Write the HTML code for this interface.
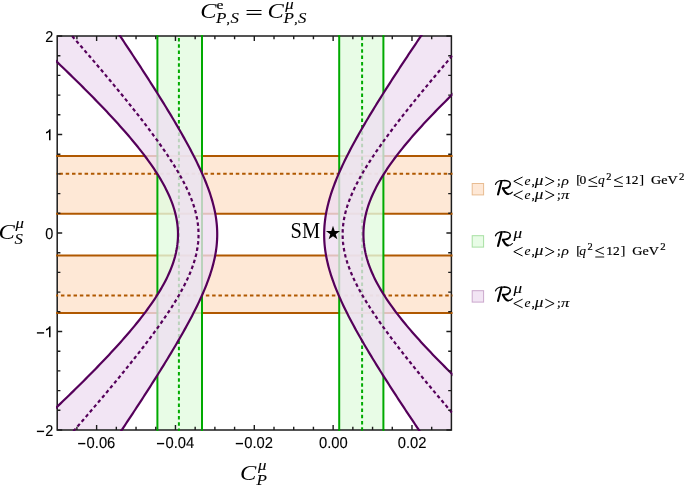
<!DOCTYPE html>
<html><head><meta charset="utf-8"><title>plot</title>
<style>html,body{margin:0;padding:0;background:#fff;}body{width:685px;height:485px;overflow:hidden;position:relative;font-family:"Liberation Sans",sans-serif;}</style></head>
<body>
<svg width="685" height="485" viewBox="0 0 685 485" style="position:absolute;left:0;top:0">
<defs><clipPath id="cp"><rect x="57.2" y="36.0" width="394.2" height="394.0"/></clipPath></defs>
<rect width="685" height="485" fill="#fff"/>
<g clip-path="url(#cp)">
<rect x="57.2" y="155.9" width="394.2" height="57.79999999999998" fill="#FEE8D6"/>
<rect x="57.2" y="255.55" width="394.2" height="57.44999999999999" fill="#FEE8D6"/>
<line x1="57.2" x2="451.4" y1="155.9" y2="155.9" stroke="#B05800" stroke-width="2.0"/>
<line x1="57.2" x2="451.4" y1="213.7" y2="213.7" stroke="#B05800" stroke-width="2.0"/>
<line x1="57.2" x2="451.4" y1="255.55" y2="255.55" stroke="#B05800" stroke-width="2.0"/>
<line x1="57.2" x2="451.4" y1="313.0" y2="313.0" stroke="#B05800" stroke-width="2.0"/>
<line x1="53.1" x2="451.4" y1="173.8" y2="173.8" stroke="#B05800" stroke-width="2.0" stroke-dasharray="3.5 2.8"/>
<line x1="54.64" x2="451.4" y1="295.4" y2="295.4" stroke="#B05800" stroke-width="2.0" stroke-dasharray="3.5 2.8"/>
<rect x="157.4" y="36.0" width="44.599999999999994" height="394.0" fill="rgba(226,251,224,0.8)"/>
<rect x="339.2" y="36.0" width="44.19999999999999" height="394.0" fill="rgba(226,251,224,0.8)"/>
<line y1="36.0" y2="430.0" x1="157.4" x2="157.4" stroke="#00AA00" stroke-width="2.0"/>
<line y1="36.0" y2="430.0" x1="202.0" x2="202.0" stroke="#00AA00" stroke-width="2.0"/>
<line y1="36.0" y2="430.0" x1="339.2" x2="339.2" stroke="#00AA00" stroke-width="2.0"/>
<line y1="36.0" y2="430.0" x1="383.4" x2="383.4" stroke="#00AA00" stroke-width="2.0"/>
<line y1="38.0" y2="430.0" x1="178.9" x2="178.9" stroke="#00AA00" stroke-width="2.0" stroke-dasharray="3.5 2.8"/>
<line y1="36.68" y2="430.0" x1="362.1" x2="362.1" stroke="#00AA00" stroke-width="2.0" stroke-dasharray="3.5 2.8"/>
<path d="M 22.83 30.00 L 25.05 32.04 L 27.26 34.08 L 29.47 36.12 L 31.68 38.16 L 33.88 40.20 L 36.07 42.24 L 38.26 44.28 L 40.45 46.32 L 42.63 48.36 L 44.80 50.40 L 46.97 52.44 L 49.13 54.48 L 51.29 56.52 L 53.44 58.56 L 55.59 60.60 L 57.73 62.64 L 59.87 64.68 L 61.99 66.72 L 64.12 68.76 L 66.23 70.80 L 68.34 72.84 L 70.44 74.88 L 72.53 76.92 L 74.62 78.96 L 76.69 81.01 L 78.76 83.05 L 80.83 85.09 L 82.88 87.13 L 84.92 89.17 L 86.96 91.21 L 88.98 93.25 L 91.00 95.29 L 93.01 97.33 L 95.00 99.37 L 96.99 101.41 L 98.96 103.45 L 100.93 105.49 L 102.88 107.53 L 104.82 109.57 L 106.75 111.61 L 108.67 113.65 L 110.57 115.69 L 112.46 117.73 L 114.34 119.77 L 116.20 121.81 L 118.05 123.85 L 119.89 125.89 L 121.70 127.93 L 123.51 129.97 L 125.29 132.01 L 127.06 134.05 L 128.81 136.09 L 130.54 138.13 L 132.26 140.17 L 133.95 142.21 L 135.63 144.25 L 137.29 146.29 L 138.92 148.33 L 140.53 150.37 L 142.12 152.41 L 143.69 154.45 L 145.23 156.49 L 146.75 158.53 L 148.24 160.57 L 149.71 162.61 L 151.15 164.65 L 152.56 166.69 L 153.94 168.73 L 155.30 170.77 L 156.62 172.81 L 157.92 174.85 L 159.18 176.89 L 160.40 178.93 L 161.60 180.97 L 162.76 183.02 L 163.88 185.06 L 164.97 187.10 L 166.02 189.14 L 167.03 191.18 L 168.00 193.22 L 168.94 195.26 L 169.83 197.30 L 170.68 199.34 L 171.48 201.38 L 172.25 203.42 L 172.97 205.46 L 173.64 207.50 L 174.27 209.54 L 174.85 211.58 L 175.38 213.62 L 175.87 215.66 L 176.31 217.70 L 176.70 219.74 L 177.03 221.78 L 177.32 223.82 L 177.56 225.86 L 177.75 227.90 L 177.89 229.94 L 177.97 231.98 L 178.01 234.02 L 177.99 236.06 L 177.93 238.10 L 177.81 240.14 L 177.64 242.18 L 177.42 244.22 L 177.15 246.26 L 176.83 248.30 L 176.46 250.34 L 176.04 252.38 L 175.57 254.42 L 175.06 256.46 L 174.49 258.50 L 173.88 260.54 L 173.23 262.58 L 172.53 264.62 L 171.78 266.66 L 170.99 268.70 L 170.15 270.74 L 169.28 272.78 L 168.36 274.82 L 167.40 276.86 L 166.41 278.90 L 165.37 280.94 L 164.30 282.98 L 163.19 285.03 L 162.04 287.07 L 160.86 289.11 L 159.64 291.15 L 158.40 293.19 L 157.12 295.23 L 155.80 297.27 L 154.46 299.31 L 153.09 301.35 L 151.69 303.39 L 150.26 305.43 L 148.80 307.47 L 147.32 309.51 L 145.81 311.55 L 144.27 313.59 L 142.72 315.63 L 141.14 317.67 L 139.53 319.71 L 137.91 321.75 L 136.26 323.79 L 134.59 325.83 L 132.90 327.87 L 131.20 329.91 L 129.47 331.95 L 127.73 333.99 L 125.96 336.03 L 124.18 338.07 L 122.39 340.11 L 120.58 342.15 L 118.75 344.19 L 116.91 346.23 L 115.05 348.27 L 113.18 350.31 L 111.29 352.35 L 109.39 354.39 L 107.48 356.43 L 105.55 358.47 L 103.62 360.51 L 101.67 362.55 L 99.71 364.59 L 97.74 366.63 L 95.76 368.67 L 93.76 370.71 L 91.76 372.75 L 89.75 374.79 L 87.73 376.83 L 85.69 378.87 L 83.65 380.91 L 81.60 382.95 L 79.54 384.99 L 77.48 387.04 L 75.40 389.08 L 73.32 391.12 L 71.23 393.16 L 69.13 395.20 L 67.03 397.24 L 64.92 399.28 L 62.80 401.32 L 60.67 403.36 L 58.54 405.40 L 56.40 407.44 L 54.26 409.48 L 52.11 411.52 L 49.95 413.56 L 47.79 415.60 L 45.62 417.64 L 43.45 419.68 L 41.27 421.72 L 39.09 423.76 L 36.90 425.80 L 34.71 427.84 L 32.51 429.88 L 30.31 431.92 L 28.10 433.96 L 25.89 436.00 L 117.76 436.00 L 119.12 433.96 L 120.49 431.92 L 121.85 429.88 L 123.21 427.84 L 124.56 425.80 L 125.92 423.76 L 127.27 421.72 L 128.62 419.68 L 129.97 417.64 L 131.31 415.60 L 132.66 413.56 L 134.00 411.52 L 135.34 409.48 L 136.67 407.44 L 138.01 405.40 L 139.34 403.36 L 140.67 401.32 L 141.99 399.28 L 143.31 397.24 L 144.63 395.20 L 145.95 393.16 L 147.26 391.12 L 148.57 389.08 L 149.88 387.04 L 151.18 384.99 L 152.48 382.95 L 153.78 380.91 L 155.07 378.87 L 156.35 376.83 L 157.64 374.79 L 158.92 372.75 L 160.19 370.71 L 161.46 368.67 L 162.73 366.63 L 163.99 364.59 L 165.24 362.55 L 166.49 360.51 L 167.74 358.47 L 168.97 356.43 L 170.21 354.39 L 171.43 352.35 L 172.65 350.31 L 173.87 348.27 L 175.08 346.23 L 176.27 344.19 L 177.47 342.15 L 178.65 340.11 L 179.83 338.07 L 181.00 336.03 L 182.16 333.99 L 183.31 331.95 L 184.45 329.91 L 185.59 327.87 L 186.71 325.83 L 187.82 323.79 L 188.92 321.75 L 190.01 319.71 L 191.09 317.67 L 192.16 315.63 L 193.21 313.59 L 194.25 311.55 L 195.28 309.51 L 196.30 307.47 L 197.29 305.43 L 198.28 303.39 L 199.25 301.35 L 200.20 299.31 L 201.13 297.27 L 202.04 295.23 L 202.94 293.19 L 203.82 291.15 L 204.68 289.11 L 205.51 287.07 L 206.33 285.03 L 207.12 282.98 L 207.89 280.94 L 208.63 278.90 L 209.35 276.86 L 210.05 274.82 L 210.71 272.78 L 211.35 270.74 L 211.96 268.70 L 212.54 266.66 L 213.09 264.62 L 213.61 262.58 L 214.10 260.54 L 214.56 258.50 L 214.98 256.46 L 215.37 254.42 L 215.72 252.38 L 216.03 250.34 L 216.31 248.30 L 216.56 246.26 L 216.76 244.22 L 216.93 242.18 L 217.06 240.14 L 217.15 238.10 L 217.21 236.06 L 217.22 234.02 L 217.20 231.98 L 217.14 229.94 L 217.03 227.90 L 216.90 225.86 L 216.72 223.82 L 216.50 221.78 L 216.25 219.74 L 215.96 217.70 L 215.64 215.66 L 215.28 213.62 L 214.88 211.58 L 214.45 209.54 L 213.99 207.50 L 213.49 205.46 L 212.97 203.42 L 212.41 201.38 L 211.82 199.34 L 211.20 197.30 L 210.56 195.26 L 209.89 193.22 L 209.19 191.18 L 208.46 189.14 L 207.71 187.10 L 206.94 185.06 L 206.14 183.02 L 205.32 180.97 L 204.48 178.93 L 203.61 176.89 L 202.73 174.85 L 201.83 172.81 L 200.91 170.77 L 199.97 168.73 L 199.02 166.69 L 198.05 164.65 L 197.06 162.61 L 196.06 160.57 L 195.04 158.53 L 194.01 156.49 L 192.97 154.45 L 191.91 152.41 L 190.84 150.37 L 189.76 148.33 L 188.66 146.29 L 187.56 144.25 L 186.45 142.21 L 185.32 140.17 L 184.19 138.13 L 183.04 136.09 L 181.89 134.05 L 180.72 132.01 L 179.55 129.97 L 178.37 127.93 L 177.19 125.89 L 175.99 123.85 L 174.79 121.81 L 173.58 119.77 L 172.37 117.73 L 171.15 115.69 L 169.92 113.65 L 168.68 111.61 L 167.44 109.57 L 166.20 107.53 L 164.95 105.49 L 163.69 103.45 L 162.43 101.41 L 161.16 99.37 L 159.89 97.33 L 158.62 95.29 L 157.34 93.25 L 156.05 91.21 L 154.76 89.17 L 153.47 87.13 L 152.18 85.09 L 150.88 83.05 L 149.57 81.01 L 148.26 78.96 L 146.95 76.92 L 145.64 74.88 L 144.32 72.84 L 143.00 70.80 L 141.68 68.76 L 140.35 66.72 L 139.03 64.68 L 137.69 62.64 L 136.36 60.60 L 135.02 58.56 L 133.68 56.52 L 132.34 54.48 L 131.00 52.44 L 129.65 50.40 L 128.30 48.36 L 126.95 46.32 L 125.60 44.28 L 124.24 42.24 L 122.89 40.20 L 121.53 38.16 L 120.17 36.12 L 118.80 34.08 L 117.44 32.04 L 116.07 30.00 Z" fill="rgba(238,222,241,0.78)"/>
<path d="M 425.05 30.00 L 423.66 32.04 L 422.28 34.08 L 420.90 36.12 L 419.52 38.16 L 418.15 40.20 L 416.78 42.24 L 415.40 44.28 L 414.04 46.32 L 412.67 48.36 L 411.30 50.40 L 409.94 52.44 L 408.58 54.48 L 407.23 56.52 L 405.87 58.56 L 404.52 60.60 L 403.18 62.64 L 401.83 64.68 L 400.49 66.72 L 399.15 68.76 L 397.82 70.80 L 396.49 72.84 L 395.16 74.88 L 393.83 76.92 L 392.51 78.96 L 391.20 81.01 L 389.88 83.05 L 388.57 85.09 L 387.27 87.13 L 385.97 89.17 L 384.67 91.21 L 383.38 93.25 L 382.10 95.29 L 380.81 97.33 L 379.54 99.37 L 378.27 101.41 L 377.00 103.45 L 375.74 105.49 L 374.49 107.53 L 373.24 109.57 L 372.00 111.61 L 370.76 113.65 L 369.53 115.69 L 368.31 117.73 L 367.10 119.77 L 365.89 121.81 L 364.69 123.85 L 363.50 125.89 L 362.32 127.93 L 361.14 129.97 L 359.97 132.01 L 358.82 134.05 L 357.67 136.09 L 356.53 138.13 L 355.40 140.17 L 354.29 142.21 L 353.18 144.25 L 352.09 146.29 L 351.01 148.33 L 349.93 150.37 L 348.88 152.41 L 347.83 154.45 L 346.80 156.49 L 345.79 158.53 L 344.78 160.57 L 343.80 162.61 L 342.83 164.65 L 341.87 166.69 L 340.94 168.73 L 340.02 170.77 L 339.12 172.81 L 338.23 174.85 L 337.37 176.89 L 336.53 178.93 L 335.71 180.97 L 334.91 183.02 L 334.13 185.06 L 333.38 187.10 L 332.65 189.14 L 331.95 191.18 L 331.27 193.22 L 330.61 195.26 L 329.99 197.30 L 329.39 199.34 L 328.82 201.38 L 328.28 203.42 L 327.77 205.46 L 327.30 207.50 L 326.85 209.54 L 326.43 211.58 L 326.05 213.62 L 325.70 215.66 L 325.39 217.70 L 325.11 219.74 L 324.87 221.78 L 324.66 223.82 L 324.48 225.86 L 324.35 227.90 L 324.25 229.94 L 324.18 231.98 L 324.15 234.02 L 324.16 236.06 L 324.21 238.10 L 324.29 240.14 L 324.41 242.18 L 324.56 244.22 L 324.75 246.26 L 324.98 248.30 L 325.24 250.34 L 325.54 252.38 L 325.87 254.42 L 326.24 256.46 L 326.63 258.50 L 327.06 260.54 L 327.53 262.58 L 328.02 264.62 L 328.54 266.66 L 329.10 268.70 L 329.68 270.74 L 330.29 272.78 L 330.93 274.82 L 331.60 276.86 L 332.29 278.90 L 333.00 280.94 L 333.75 282.98 L 334.51 285.03 L 335.30 287.07 L 336.11 289.11 L 336.94 291.15 L 337.79 293.19 L 338.66 295.23 L 339.55 297.27 L 340.46 299.31 L 341.39 301.35 L 342.34 303.39 L 343.30 305.43 L 344.28 307.47 L 345.27 309.51 L 346.28 311.55 L 347.30 313.59 L 348.34 315.63 L 349.39 317.67 L 350.46 319.71 L 351.53 321.75 L 352.62 323.79 L 353.72 325.83 L 354.83 327.87 L 355.96 329.91 L 357.09 331.95 L 358.23 333.99 L 359.38 336.03 L 360.54 338.07 L 361.71 340.11 L 362.89 342.15 L 364.08 344.19 L 365.28 346.23 L 366.48 348.27 L 367.69 350.31 L 368.91 352.35 L 370.13 354.39 L 371.37 356.43 L 372.60 358.47 L 373.85 360.51 L 375.10 362.55 L 376.36 364.59 L 377.62 366.63 L 378.89 368.67 L 380.16 370.71 L 381.44 372.75 L 382.73 374.79 L 384.01 376.83 L 385.31 378.87 L 386.61 380.91 L 387.91 382.95 L 389.21 384.99 L 390.53 387.04 L 391.84 389.08 L 393.16 391.12 L 394.48 393.16 L 395.81 395.20 L 397.14 397.24 L 398.47 399.28 L 399.81 401.32 L 401.15 403.36 L 402.49 405.40 L 403.84 407.44 L 405.18 409.48 L 406.54 411.52 L 407.89 413.56 L 409.25 415.60 L 410.61 417.64 L 411.97 419.68 L 413.34 421.72 L 414.70 423.76 L 416.07 425.80 L 417.45 427.84 L 418.82 429.88 L 420.20 431.92 L 421.58 433.96 L 422.96 436.00 L 519.42 436.00 L 517.10 433.96 L 514.79 431.92 L 512.49 429.88 L 510.19 427.84 L 507.90 425.80 L 505.61 423.76 L 503.33 421.72 L 501.05 419.68 L 498.78 417.64 L 496.52 415.60 L 494.26 413.56 L 492.02 411.52 L 489.77 409.48 L 487.54 407.44 L 485.31 405.40 L 483.09 403.36 L 480.88 401.32 L 478.67 399.28 L 476.47 397.24 L 474.29 395.20 L 472.10 393.16 L 469.93 391.12 L 467.77 389.08 L 465.62 387.04 L 463.47 384.99 L 461.34 382.95 L 459.21 380.91 L 457.10 378.87 L 455.00 376.83 L 452.90 374.79 L 450.82 372.75 L 448.75 370.71 L 446.69 368.67 L 444.65 366.63 L 442.61 364.59 L 440.59 362.55 L 438.59 360.51 L 436.59 358.47 L 434.61 356.43 L 432.64 354.39 L 430.69 352.35 L 428.76 350.31 L 426.84 348.27 L 424.93 346.23 L 423.04 344.19 L 421.17 342.15 L 419.32 340.11 L 417.48 338.07 L 415.67 336.03 L 413.87 333.99 L 412.09 331.95 L 410.33 329.91 L 408.59 327.87 L 406.88 325.83 L 405.18 323.79 L 403.51 321.75 L 401.86 319.71 L 400.24 317.67 L 398.64 315.63 L 397.06 313.59 L 395.51 311.55 L 393.99 309.51 L 392.50 307.47 L 391.03 305.43 L 389.59 303.39 L 388.19 301.35 L 386.81 299.31 L 385.46 297.27 L 384.15 295.23 L 382.87 293.19 L 381.62 291.15 L 380.41 289.11 L 379.23 287.07 L 378.09 285.03 L 376.98 282.98 L 375.92 280.94 L 374.89 278.90 L 373.90 276.86 L 372.95 274.82 L 372.04 272.78 L 371.18 270.74 L 370.35 268.70 L 369.57 266.66 L 368.83 264.62 L 368.14 262.58 L 367.50 260.54 L 366.89 258.50 L 366.34 256.46 L 365.83 254.42 L 365.37 252.38 L 364.96 250.34 L 364.60 248.30 L 364.28 246.26 L 364.02 244.22 L 363.80 242.18 L 363.64 240.14 L 363.52 238.10 L 363.45 236.06 L 363.44 234.02 L 363.47 231.98 L 363.55 229.94 L 363.69 227.90 L 363.87 225.86 L 364.10 223.82 L 364.38 221.78 L 364.72 219.74 L 365.10 217.70 L 365.52 215.66 L 366.00 213.62 L 366.52 211.58 L 367.09 209.54 L 367.71 207.50 L 368.37 205.46 L 369.08 203.42 L 369.83 201.38 L 370.63 199.34 L 371.46 197.30 L 372.35 195.26 L 373.27 193.22 L 374.23 191.18 L 375.23 189.14 L 376.27 187.10 L 377.35 185.06 L 378.47 183.02 L 379.63 180.97 L 380.82 178.93 L 382.04 176.89 L 383.30 174.85 L 384.59 172.81 L 385.92 170.77 L 387.27 168.73 L 388.66 166.69 L 390.08 164.65 L 391.53 162.61 L 393.00 160.57 L 394.51 158.53 L 396.04 156.49 L 397.60 154.45 L 399.18 152.41 L 400.79 150.37 L 402.42 148.33 L 404.08 146.29 L 405.76 144.25 L 407.46 142.21 L 409.18 140.17 L 410.93 138.13 L 412.69 136.09 L 414.48 134.05 L 416.28 132.01 L 418.11 129.97 L 419.95 127.93 L 421.81 125.89 L 423.68 123.85 L 425.58 121.81 L 427.49 119.77 L 429.41 117.73 L 431.35 115.69 L 433.31 113.65 L 435.28 111.61 L 437.27 109.57 L 439.27 107.53 L 441.28 105.49 L 443.30 103.45 L 445.34 101.41 L 447.39 99.37 L 449.46 97.33 L 451.53 95.29 L 453.61 93.25 L 455.71 91.21 L 457.82 89.17 L 459.94 87.13 L 462.06 85.09 L 464.20 83.05 L 466.35 81.01 L 468.51 78.96 L 470.67 76.92 L 472.85 74.88 L 475.03 72.84 L 477.22 70.80 L 479.42 68.76 L 481.63 66.72 L 483.84 64.68 L 486.07 62.64 L 488.30 60.60 L 490.53 58.56 L 492.78 56.52 L 495.03 54.48 L 497.29 52.44 L 499.55 50.40 L 501.83 48.36 L 504.10 46.32 L 506.39 44.28 L 508.68 42.24 L 510.97 40.20 L 513.27 38.16 L 515.58 36.12 L 517.89 34.08 L 520.21 32.04 L 522.53 30.00 Z" fill="rgba(238,222,241,0.78)"/>
<path d="M 116.07 30.00 L 117.44 32.04 L 118.80 34.08 L 120.17 36.12 L 121.53 38.16 L 122.89 40.20 L 124.24 42.24 L 125.60 44.28 L 126.95 46.32 L 128.30 48.36 L 129.65 50.40 L 131.00 52.44 L 132.34 54.48 L 133.68 56.52 L 135.02 58.56 L 136.36 60.60 L 137.69 62.64 L 139.03 64.68 L 140.35 66.72 L 141.68 68.76 L 143.00 70.80 L 144.32 72.84 L 145.64 74.88 L 146.95 76.92 L 148.26 78.96 L 149.57 81.01 L 150.88 83.05 L 152.18 85.09 L 153.47 87.13 L 154.76 89.17 L 156.05 91.21 L 157.34 93.25 L 158.62 95.29 L 159.89 97.33 L 161.16 99.37 L 162.43 101.41 L 163.69 103.45 L 164.95 105.49 L 166.20 107.53 L 167.44 109.57 L 168.68 111.61 L 169.92 113.65 L 171.15 115.69 L 172.37 117.73 L 173.58 119.77 L 174.79 121.81 L 175.99 123.85 L 177.19 125.89 L 178.37 127.93 L 179.55 129.97 L 180.72 132.01 L 181.89 134.05 L 183.04 136.09 L 184.19 138.13 L 185.32 140.17 L 186.45 142.21 L 187.56 144.25 L 188.66 146.29 L 189.76 148.33 L 190.84 150.37 L 191.91 152.41 L 192.97 154.45 L 194.01 156.49 L 195.04 158.53 L 196.06 160.57 L 197.06 162.61 L 198.05 164.65 L 199.02 166.69 L 199.97 168.73 L 200.91 170.77 L 201.83 172.81 L 202.73 174.85 L 203.61 176.89 L 204.48 178.93 L 205.32 180.97 L 206.14 183.02 L 206.94 185.06 L 207.71 187.10 L 208.46 189.14 L 209.19 191.18 L 209.89 193.22 L 210.56 195.26 L 211.20 197.30 L 211.82 199.34 L 212.41 201.38 L 212.97 203.42 L 213.49 205.46 L 213.99 207.50 L 214.45 209.54 L 214.88 211.58 L 215.28 213.62 L 215.64 215.66 L 215.96 217.70 L 216.25 219.74 L 216.50 221.78 L 216.72 223.82 L 216.90 225.86 L 217.03 227.90 L 217.14 229.94 L 217.20 231.98 L 217.22 234.02 L 217.21 236.06 L 217.15 238.10 L 217.06 240.14 L 216.93 242.18 L 216.76 244.22 L 216.56 246.26 L 216.31 248.30 L 216.03 250.34 L 215.72 252.38 L 215.37 254.42 L 214.98 256.46 L 214.56 258.50 L 214.10 260.54 L 213.61 262.58 L 213.09 264.62 L 212.54 266.66 L 211.96 268.70 L 211.35 270.74 L 210.71 272.78 L 210.05 274.82 L 209.35 276.86 L 208.63 278.90 L 207.89 280.94 L 207.12 282.98 L 206.33 285.03 L 205.51 287.07 L 204.68 289.11 L 203.82 291.15 L 202.94 293.19 L 202.04 295.23 L 201.13 297.27 L 200.20 299.31 L 199.25 301.35 L 198.28 303.39 L 197.29 305.43 L 196.30 307.47 L 195.28 309.51 L 194.25 311.55 L 193.21 313.59 L 192.16 315.63 L 191.09 317.67 L 190.01 319.71 L 188.92 321.75 L 187.82 323.79 L 186.71 325.83 L 185.59 327.87 L 184.45 329.91 L 183.31 331.95 L 182.16 333.99 L 181.00 336.03 L 179.83 338.07 L 178.65 340.11 L 177.47 342.15 L 176.27 344.19 L 175.08 346.23 L 173.87 348.27 L 172.65 350.31 L 171.43 352.35 L 170.21 354.39 L 168.97 356.43 L 167.74 358.47 L 166.49 360.51 L 165.24 362.55 L 163.99 364.59 L 162.73 366.63 L 161.46 368.67 L 160.19 370.71 L 158.92 372.75 L 157.64 374.79 L 156.35 376.83 L 155.07 378.87 L 153.78 380.91 L 152.48 382.95 L 151.18 384.99 L 149.88 387.04 L 148.57 389.08 L 147.26 391.12 L 145.95 393.16 L 144.63 395.20 L 143.31 397.24 L 141.99 399.28 L 140.67 401.32 L 139.34 403.36 L 138.01 405.40 L 136.67 407.44 L 135.34 409.48 L 134.00 411.52 L 132.66 413.56 L 131.31 415.60 L 129.97 417.64 L 128.62 419.68 L 127.27 421.72 L 125.92 423.76 L 124.56 425.80 L 123.21 427.84 L 121.85 429.88 L 120.49 431.92 L 119.12 433.96 L 117.76 436.00" fill="none" stroke="#55005A" stroke-width="2.2"/>
<path d="M 22.83 30.00 L 25.05 32.04 L 27.26 34.08 L 29.47 36.12 L 31.68 38.16 L 33.88 40.20 L 36.07 42.24 L 38.26 44.28 L 40.45 46.32 L 42.63 48.36 L 44.80 50.40 L 46.97 52.44 L 49.13 54.48 L 51.29 56.52 L 53.44 58.56 L 55.59 60.60 L 57.73 62.64 L 59.87 64.68 L 61.99 66.72 L 64.12 68.76 L 66.23 70.80 L 68.34 72.84 L 70.44 74.88 L 72.53 76.92 L 74.62 78.96 L 76.69 81.01 L 78.76 83.05 L 80.83 85.09 L 82.88 87.13 L 84.92 89.17 L 86.96 91.21 L 88.98 93.25 L 91.00 95.29 L 93.01 97.33 L 95.00 99.37 L 96.99 101.41 L 98.96 103.45 L 100.93 105.49 L 102.88 107.53 L 104.82 109.57 L 106.75 111.61 L 108.67 113.65 L 110.57 115.69 L 112.46 117.73 L 114.34 119.77 L 116.20 121.81 L 118.05 123.85 L 119.89 125.89 L 121.70 127.93 L 123.51 129.97 L 125.29 132.01 L 127.06 134.05 L 128.81 136.09 L 130.54 138.13 L 132.26 140.17 L 133.95 142.21 L 135.63 144.25 L 137.29 146.29 L 138.92 148.33 L 140.53 150.37 L 142.12 152.41 L 143.69 154.45 L 145.23 156.49 L 146.75 158.53 L 148.24 160.57 L 149.71 162.61 L 151.15 164.65 L 152.56 166.69 L 153.94 168.73 L 155.30 170.77 L 156.62 172.81 L 157.92 174.85 L 159.18 176.89 L 160.40 178.93 L 161.60 180.97 L 162.76 183.02 L 163.88 185.06 L 164.97 187.10 L 166.02 189.14 L 167.03 191.18 L 168.00 193.22 L 168.94 195.26 L 169.83 197.30 L 170.68 199.34 L 171.48 201.38 L 172.25 203.42 L 172.97 205.46 L 173.64 207.50 L 174.27 209.54 L 174.85 211.58 L 175.38 213.62 L 175.87 215.66 L 176.31 217.70 L 176.70 219.74 L 177.03 221.78 L 177.32 223.82 L 177.56 225.86 L 177.75 227.90 L 177.89 229.94 L 177.97 231.98 L 178.01 234.02 L 177.99 236.06 L 177.93 238.10 L 177.81 240.14 L 177.64 242.18 L 177.42 244.22 L 177.15 246.26 L 176.83 248.30 L 176.46 250.34 L 176.04 252.38 L 175.57 254.42 L 175.06 256.46 L 174.49 258.50 L 173.88 260.54 L 173.23 262.58 L 172.53 264.62 L 171.78 266.66 L 170.99 268.70 L 170.15 270.74 L 169.28 272.78 L 168.36 274.82 L 167.40 276.86 L 166.41 278.90 L 165.37 280.94 L 164.30 282.98 L 163.19 285.03 L 162.04 287.07 L 160.86 289.11 L 159.64 291.15 L 158.40 293.19 L 157.12 295.23 L 155.80 297.27 L 154.46 299.31 L 153.09 301.35 L 151.69 303.39 L 150.26 305.43 L 148.80 307.47 L 147.32 309.51 L 145.81 311.55 L 144.27 313.59 L 142.72 315.63 L 141.14 317.67 L 139.53 319.71 L 137.91 321.75 L 136.26 323.79 L 134.59 325.83 L 132.90 327.87 L 131.20 329.91 L 129.47 331.95 L 127.73 333.99 L 125.96 336.03 L 124.18 338.07 L 122.39 340.11 L 120.58 342.15 L 118.75 344.19 L 116.91 346.23 L 115.05 348.27 L 113.18 350.31 L 111.29 352.35 L 109.39 354.39 L 107.48 356.43 L 105.55 358.47 L 103.62 360.51 L 101.67 362.55 L 99.71 364.59 L 97.74 366.63 L 95.76 368.67 L 93.76 370.71 L 91.76 372.75 L 89.75 374.79 L 87.73 376.83 L 85.69 378.87 L 83.65 380.91 L 81.60 382.95 L 79.54 384.99 L 77.48 387.04 L 75.40 389.08 L 73.32 391.12 L 71.23 393.16 L 69.13 395.20 L 67.03 397.24 L 64.92 399.28 L 62.80 401.32 L 60.67 403.36 L 58.54 405.40 L 56.40 407.44 L 54.26 409.48 L 52.11 411.52 L 49.95 413.56 L 47.79 415.60 L 45.62 417.64 L 43.45 419.68 L 41.27 421.72 L 39.09 423.76 L 36.90 425.80 L 34.71 427.84 L 32.51 429.88 L 30.31 431.92 L 28.10 433.96 L 25.89 436.00" fill="none" stroke="#55005A" stroke-width="2.2"/>
<path d="M 425.05 30.00 L 423.66 32.04 L 422.28 34.08 L 420.90 36.12 L 419.52 38.16 L 418.15 40.20 L 416.78 42.24 L 415.40 44.28 L 414.04 46.32 L 412.67 48.36 L 411.30 50.40 L 409.94 52.44 L 408.58 54.48 L 407.23 56.52 L 405.87 58.56 L 404.52 60.60 L 403.18 62.64 L 401.83 64.68 L 400.49 66.72 L 399.15 68.76 L 397.82 70.80 L 396.49 72.84 L 395.16 74.88 L 393.83 76.92 L 392.51 78.96 L 391.20 81.01 L 389.88 83.05 L 388.57 85.09 L 387.27 87.13 L 385.97 89.17 L 384.67 91.21 L 383.38 93.25 L 382.10 95.29 L 380.81 97.33 L 379.54 99.37 L 378.27 101.41 L 377.00 103.45 L 375.74 105.49 L 374.49 107.53 L 373.24 109.57 L 372.00 111.61 L 370.76 113.65 L 369.53 115.69 L 368.31 117.73 L 367.10 119.77 L 365.89 121.81 L 364.69 123.85 L 363.50 125.89 L 362.32 127.93 L 361.14 129.97 L 359.97 132.01 L 358.82 134.05 L 357.67 136.09 L 356.53 138.13 L 355.40 140.17 L 354.29 142.21 L 353.18 144.25 L 352.09 146.29 L 351.01 148.33 L 349.93 150.37 L 348.88 152.41 L 347.83 154.45 L 346.80 156.49 L 345.79 158.53 L 344.78 160.57 L 343.80 162.61 L 342.83 164.65 L 341.87 166.69 L 340.94 168.73 L 340.02 170.77 L 339.12 172.81 L 338.23 174.85 L 337.37 176.89 L 336.53 178.93 L 335.71 180.97 L 334.91 183.02 L 334.13 185.06 L 333.38 187.10 L 332.65 189.14 L 331.95 191.18 L 331.27 193.22 L 330.61 195.26 L 329.99 197.30 L 329.39 199.34 L 328.82 201.38 L 328.28 203.42 L 327.77 205.46 L 327.30 207.50 L 326.85 209.54 L 326.43 211.58 L 326.05 213.62 L 325.70 215.66 L 325.39 217.70 L 325.11 219.74 L 324.87 221.78 L 324.66 223.82 L 324.48 225.86 L 324.35 227.90 L 324.25 229.94 L 324.18 231.98 L 324.15 234.02 L 324.16 236.06 L 324.21 238.10 L 324.29 240.14 L 324.41 242.18 L 324.56 244.22 L 324.75 246.26 L 324.98 248.30 L 325.24 250.34 L 325.54 252.38 L 325.87 254.42 L 326.24 256.46 L 326.63 258.50 L 327.06 260.54 L 327.53 262.58 L 328.02 264.62 L 328.54 266.66 L 329.10 268.70 L 329.68 270.74 L 330.29 272.78 L 330.93 274.82 L 331.60 276.86 L 332.29 278.90 L 333.00 280.94 L 333.75 282.98 L 334.51 285.03 L 335.30 287.07 L 336.11 289.11 L 336.94 291.15 L 337.79 293.19 L 338.66 295.23 L 339.55 297.27 L 340.46 299.31 L 341.39 301.35 L 342.34 303.39 L 343.30 305.43 L 344.28 307.47 L 345.27 309.51 L 346.28 311.55 L 347.30 313.59 L 348.34 315.63 L 349.39 317.67 L 350.46 319.71 L 351.53 321.75 L 352.62 323.79 L 353.72 325.83 L 354.83 327.87 L 355.96 329.91 L 357.09 331.95 L 358.23 333.99 L 359.38 336.03 L 360.54 338.07 L 361.71 340.11 L 362.89 342.15 L 364.08 344.19 L 365.28 346.23 L 366.48 348.27 L 367.69 350.31 L 368.91 352.35 L 370.13 354.39 L 371.37 356.43 L 372.60 358.47 L 373.85 360.51 L 375.10 362.55 L 376.36 364.59 L 377.62 366.63 L 378.89 368.67 L 380.16 370.71 L 381.44 372.75 L 382.73 374.79 L 384.01 376.83 L 385.31 378.87 L 386.61 380.91 L 387.91 382.95 L 389.21 384.99 L 390.53 387.04 L 391.84 389.08 L 393.16 391.12 L 394.48 393.16 L 395.81 395.20 L 397.14 397.24 L 398.47 399.28 L 399.81 401.32 L 401.15 403.36 L 402.49 405.40 L 403.84 407.44 L 405.18 409.48 L 406.54 411.52 L 407.89 413.56 L 409.25 415.60 L 410.61 417.64 L 411.97 419.68 L 413.34 421.72 L 414.70 423.76 L 416.07 425.80 L 417.45 427.84 L 418.82 429.88 L 420.20 431.92 L 421.58 433.96 L 422.96 436.00" fill="none" stroke="#55005A" stroke-width="2.2"/>
<path d="M 522.53 30.00 L 520.21 32.04 L 517.89 34.08 L 515.58 36.12 L 513.27 38.16 L 510.97 40.20 L 508.68 42.24 L 506.39 44.28 L 504.10 46.32 L 501.83 48.36 L 499.55 50.40 L 497.29 52.44 L 495.03 54.48 L 492.78 56.52 L 490.53 58.56 L 488.30 60.60 L 486.07 62.64 L 483.84 64.68 L 481.63 66.72 L 479.42 68.76 L 477.22 70.80 L 475.03 72.84 L 472.85 74.88 L 470.67 76.92 L 468.51 78.96 L 466.35 81.01 L 464.20 83.05 L 462.06 85.09 L 459.94 87.13 L 457.82 89.17 L 455.71 91.21 L 453.61 93.25 L 451.53 95.29 L 449.46 97.33 L 447.39 99.37 L 445.34 101.41 L 443.30 103.45 L 441.28 105.49 L 439.27 107.53 L 437.27 109.57 L 435.28 111.61 L 433.31 113.65 L 431.35 115.69 L 429.41 117.73 L 427.49 119.77 L 425.58 121.81 L 423.68 123.85 L 421.81 125.89 L 419.95 127.93 L 418.11 129.97 L 416.28 132.01 L 414.48 134.05 L 412.69 136.09 L 410.93 138.13 L 409.18 140.17 L 407.46 142.21 L 405.76 144.25 L 404.08 146.29 L 402.42 148.33 L 400.79 150.37 L 399.18 152.41 L 397.60 154.45 L 396.04 156.49 L 394.51 158.53 L 393.00 160.57 L 391.53 162.61 L 390.08 164.65 L 388.66 166.69 L 387.27 168.73 L 385.92 170.77 L 384.59 172.81 L 383.30 174.85 L 382.04 176.89 L 380.82 178.93 L 379.63 180.97 L 378.47 183.02 L 377.35 185.06 L 376.27 187.10 L 375.23 189.14 L 374.23 191.18 L 373.27 193.22 L 372.35 195.26 L 371.46 197.30 L 370.63 199.34 L 369.83 201.38 L 369.08 203.42 L 368.37 205.46 L 367.71 207.50 L 367.09 209.54 L 366.52 211.58 L 366.00 213.62 L 365.52 215.66 L 365.10 217.70 L 364.72 219.74 L 364.38 221.78 L 364.10 223.82 L 363.87 225.86 L 363.69 227.90 L 363.55 229.94 L 363.47 231.98 L 363.44 234.02 L 363.45 236.06 L 363.52 238.10 L 363.64 240.14 L 363.80 242.18 L 364.02 244.22 L 364.28 246.26 L 364.60 248.30 L 364.96 250.34 L 365.37 252.38 L 365.83 254.42 L 366.34 256.46 L 366.89 258.50 L 367.50 260.54 L 368.14 262.58 L 368.83 264.62 L 369.57 266.66 L 370.35 268.70 L 371.18 270.74 L 372.04 272.78 L 372.95 274.82 L 373.90 276.86 L 374.89 278.90 L 375.92 280.94 L 376.98 282.98 L 378.09 285.03 L 379.23 287.07 L 380.41 289.11 L 381.62 291.15 L 382.87 293.19 L 384.15 295.23 L 385.46 297.27 L 386.81 299.31 L 388.19 301.35 L 389.59 303.39 L 391.03 305.43 L 392.50 307.47 L 393.99 309.51 L 395.51 311.55 L 397.06 313.59 L 398.64 315.63 L 400.24 317.67 L 401.86 319.71 L 403.51 321.75 L 405.18 323.79 L 406.88 325.83 L 408.59 327.87 L 410.33 329.91 L 412.09 331.95 L 413.87 333.99 L 415.67 336.03 L 417.48 338.07 L 419.32 340.11 L 421.17 342.15 L 423.04 344.19 L 424.93 346.23 L 426.84 348.27 L 428.76 350.31 L 430.69 352.35 L 432.64 354.39 L 434.61 356.43 L 436.59 358.47 L 438.59 360.51 L 440.59 362.55 L 442.61 364.59 L 444.65 366.63 L 446.69 368.67 L 448.75 370.71 L 450.82 372.75 L 452.90 374.79 L 455.00 376.83 L 457.10 378.87 L 459.21 380.91 L 461.34 382.95 L 463.47 384.99 L 465.62 387.04 L 467.77 389.08 L 469.93 391.12 L 472.10 393.16 L 474.29 395.20 L 476.47 397.24 L 478.67 399.28 L 480.88 401.32 L 483.09 403.36 L 485.31 405.40 L 487.54 407.44 L 489.77 409.48 L 492.02 411.52 L 494.26 413.56 L 496.52 415.60 L 498.78 417.64 L 501.05 419.68 L 503.33 421.72 L 505.61 423.76 L 507.90 425.80 L 510.19 427.84 L 512.49 429.88 L 514.79 431.92 L 517.10 433.96 L 519.42 436.00" fill="none" stroke="#55005A" stroke-width="2.2"/>
<path d="M 66.85 30.00 L 68.63 32.04 L 70.41 34.08 L 72.19 36.12 L 73.96 38.16 L 75.73 40.20 L 77.50 42.24 L 79.26 44.28 L 81.03 46.32 L 82.79 48.36 L 84.54 50.40 L 86.30 52.44 L 88.05 54.48 L 89.80 56.52 L 91.54 58.56 L 93.29 60.60 L 95.02 62.64 L 96.76 64.68 L 98.49 66.72 L 100.22 68.76 L 101.94 70.80 L 103.66 72.84 L 105.38 74.88 L 107.09 76.92 L 108.80 78.96 L 110.50 81.01 L 112.20 83.05 L 113.89 85.09 L 115.58 87.13 L 117.26 89.17 L 118.94 91.21 L 120.61 93.25 L 122.28 95.29 L 123.94 97.33 L 125.59 99.37 L 127.24 101.41 L 128.88 103.45 L 130.52 105.49 L 132.15 107.53 L 133.77 109.57 L 135.39 111.61 L 136.99 113.65 L 138.59 115.69 L 140.18 117.73 L 141.76 119.77 L 143.34 121.81 L 144.90 123.85 L 146.45 125.89 L 148.00 127.93 L 149.53 129.97 L 151.06 132.01 L 152.57 134.05 L 154.07 136.09 L 155.56 138.13 L 157.04 140.17 L 158.50 142.21 L 159.95 144.25 L 161.39 146.29 L 162.81 148.33 L 164.22 150.37 L 165.61 152.41 L 166.98 154.45 L 168.34 156.49 L 169.68 158.53 L 171.00 160.57 L 172.30 162.61 L 173.59 164.65 L 174.85 166.69 L 176.09 168.73 L 177.31 170.77 L 178.51 172.81 L 179.68 174.85 L 180.82 176.89 L 181.94 178.93 L 183.04 180.97 L 184.10 183.02 L 185.14 185.06 L 186.14 187.10 L 187.12 189.14 L 188.06 191.18 L 188.97 193.22 L 189.85 195.26 L 190.68 197.30 L 191.49 199.34 L 192.25 201.38 L 192.98 203.42 L 193.66 205.46 L 194.31 207.50 L 194.91 209.54 L 195.47 211.58 L 195.98 213.62 L 196.45 215.66 L 196.87 217.70 L 197.25 219.74 L 197.58 221.78 L 197.86 223.82 L 198.09 225.86 L 198.28 227.90 L 198.41 229.94 L 198.50 231.98 L 198.53 234.02 L 198.51 236.06 L 198.45 238.10 L 198.33 240.14 L 198.17 242.18 L 197.95 244.22 L 197.69 246.26 L 197.38 248.30 L 197.02 250.34 L 196.61 252.38 L 196.16 254.42 L 195.66 256.46 L 195.12 258.50 L 194.53 260.54 L 193.90 262.58 L 193.23 264.62 L 192.52 266.66 L 191.77 268.70 L 190.98 270.74 L 190.16 272.78 L 189.29 274.82 L 188.40 276.86 L 187.47 278.90 L 186.50 280.94 L 185.51 282.98 L 184.48 285.03 L 183.43 287.07 L 182.35 289.11 L 181.23 291.15 L 180.10 293.19 L 178.94 295.23 L 177.75 297.27 L 176.54 299.31 L 175.31 301.35 L 174.05 303.39 L 172.78 305.43 L 171.48 307.47 L 170.16 309.51 L 168.83 311.55 L 167.48 313.59 L 166.11 315.63 L 164.72 317.67 L 163.32 319.71 L 161.91 321.75 L 160.48 323.79 L 159.03 325.83 L 157.57 327.87 L 156.10 329.91 L 154.61 331.95 L 153.12 333.99 L 151.61 336.03 L 150.09 338.07 L 148.56 340.11 L 147.02 342.15 L 145.47 344.19 L 143.91 346.23 L 142.34 348.27 L 140.76 350.31 L 139.17 352.35 L 137.58 354.39 L 135.97 356.43 L 134.36 358.47 L 132.74 360.51 L 131.12 362.55 L 129.48 364.59 L 127.84 366.63 L 126.20 368.67 L 124.54 370.71 L 122.88 372.75 L 121.22 374.79 L 119.55 376.83 L 117.87 378.87 L 116.19 380.91 L 114.50 382.95 L 112.81 384.99 L 111.12 387.04 L 109.42 389.08 L 107.71 391.12 L 106.00 393.16 L 104.29 395.20 L 102.57 397.24 L 100.85 399.28 L 99.12 401.32 L 97.39 403.36 L 95.66 405.40 L 93.92 407.44 L 92.18 409.48 L 90.44 411.52 L 88.69 413.56 L 86.94 415.60 L 85.18 417.64 L 83.43 419.68 L 81.67 421.72 L 79.91 423.76 L 78.14 425.80 L 76.38 427.84 L 74.60 429.88 L 72.83 431.92 L 71.06 433.96 L 69.28 436.00" fill="none" stroke="#55005A" stroke-width="2.2" stroke-dasharray="3.5 2.8" stroke-dashoffset="4.496"/>
<path d="M 474.55 30.00 L 472.77 32.04 L 470.99 34.08 L 469.21 36.12 L 467.44 38.16 L 465.67 40.20 L 463.90 42.24 L 462.13 44.28 L 460.37 46.32 L 458.61 48.36 L 456.85 50.40 L 455.10 52.44 L 453.35 54.48 L 451.60 56.52 L 449.85 58.56 L 448.11 60.60 L 446.37 62.64 L 444.63 64.68 L 442.90 66.72 L 441.17 68.76 L 439.45 70.80 L 437.73 72.84 L 436.01 74.88 L 434.30 76.92 L 432.59 78.96 L 430.89 81.01 L 429.19 83.05 L 427.49 85.09 L 425.80 87.13 L 424.12 89.17 L 422.44 91.21 L 420.77 93.25 L 419.10 95.29 L 417.43 97.33 L 415.78 99.37 L 414.13 101.41 L 412.48 103.45 L 410.84 105.49 L 409.21 107.53 L 407.59 109.57 L 405.97 111.61 L 404.36 113.65 L 402.76 115.69 L 401.17 117.73 L 399.59 119.77 L 398.01 121.81 L 396.44 123.85 L 394.89 125.89 L 393.34 127.93 L 391.80 129.97 L 390.27 132.01 L 388.76 134.05 L 387.25 136.09 L 385.76 138.13 L 384.28 140.17 L 382.81 142.21 L 381.36 144.25 L 379.92 146.29 L 378.49 148.33 L 377.08 150.37 L 375.69 152.41 L 374.31 154.45 L 372.95 156.49 L 371.60 158.53 L 370.27 160.57 L 368.97 162.61 L 367.68 164.65 L 366.41 166.69 L 365.17 168.73 L 363.94 170.77 L 362.74 172.81 L 361.57 174.85 L 360.41 176.89 L 359.29 178.93 L 358.19 180.97 L 357.12 183.02 L 356.08 185.06 L 355.07 187.10 L 354.09 189.14 L 353.14 191.18 L 352.23 193.22 L 351.35 195.26 L 350.50 197.30 L 349.70 199.34 L 348.93 201.38 L 348.20 203.42 L 347.51 205.46 L 346.86 207.50 L 346.26 209.54 L 345.70 211.58 L 345.18 213.62 L 344.71 215.66 L 344.28 217.70 L 343.90 219.74 L 343.57 221.78 L 343.29 223.82 L 343.06 225.86 L 342.87 227.90 L 342.74 229.94 L 342.66 231.98 L 342.62 234.02 L 342.64 236.06 L 342.71 238.10 L 342.83 240.14 L 342.99 242.18 L 343.21 244.22 L 343.48 246.26 L 343.79 248.30 L 344.16 250.34 L 344.57 252.38 L 345.03 254.42 L 345.53 256.46 L 346.08 258.50 L 346.67 260.54 L 347.30 262.58 L 347.98 264.62 L 348.70 266.66 L 349.45 268.70 L 350.25 270.74 L 351.08 272.78 L 351.95 274.82 L 352.85 276.86 L 353.79 278.90 L 354.76 280.94 L 355.76 282.98 L 356.79 285.03 L 357.85 287.07 L 358.94 289.11 L 360.06 291.15 L 361.20 293.19 L 362.37 295.23 L 363.56 297.27 L 364.78 299.31 L 366.02 301.35 L 367.28 303.39 L 368.56 305.43 L 369.86 307.47 L 371.18 309.51 L 372.52 311.55 L 373.88 313.59 L 375.25 315.63 L 376.64 317.67 L 378.05 319.71 L 379.47 321.75 L 380.91 323.79 L 382.36 325.83 L 383.82 327.87 L 385.30 329.91 L 386.79 331.95 L 388.29 333.99 L 389.80 336.03 L 391.32 338.07 L 392.86 340.11 L 394.40 342.15 L 395.96 344.19 L 397.52 346.23 L 399.09 348.27 L 400.67 350.31 L 402.26 352.35 L 403.86 354.39 L 405.47 356.43 L 407.08 358.47 L 408.71 360.51 L 410.33 362.55 L 411.97 364.59 L 413.61 366.63 L 415.26 368.67 L 416.92 370.71 L 418.58 372.75 L 420.24 374.79 L 421.92 376.83 L 423.59 378.87 L 425.28 380.91 L 426.96 382.95 L 428.66 384.99 L 430.36 387.04 L 432.06 389.08 L 433.76 391.12 L 435.48 393.16 L 437.19 395.20 L 438.91 397.24 L 440.63 399.28 L 442.36 401.32 L 444.09 403.36 L 445.83 405.40 L 447.56 407.44 L 449.31 409.48 L 451.05 411.52 L 452.80 413.56 L 454.55 415.60 L 456.30 417.64 L 458.06 419.68 L 459.82 421.72 L 461.58 423.76 L 463.35 425.80 L 465.12 427.84 L 466.89 429.88 L 468.66 431.92 L 470.43 433.96 L 472.21 436.00" fill="none" stroke="#55005A" stroke-width="2.2" stroke-dasharray="3.5 2.8" stroke-dashoffset="3.789"/>
</g>
<rect x="57.2" y="36.0" width="394.2" height="394.0" fill="none" stroke="#1c1c1c" stroke-width="1.5"/>
<path d="M76.91 430.0 v-3.2 M76.91 36.0 v3.2 M96.62 430.0 v-5.0 M96.62 36.0 v5.0 M116.33 430.0 v-3.2 M116.33 36.0 v3.2 M136.04 430.0 v-3.2 M136.04 36.0 v3.2 M155.75 430.0 v-3.2 M155.75 36.0 v3.2 M175.46 430.0 v-5.0 M175.46 36.0 v5.0 M195.17 430.0 v-3.2 M195.17 36.0 v3.2 M214.88 430.0 v-3.2 M214.88 36.0 v3.2 M234.59 430.0 v-3.2 M234.59 36.0 v3.2 M254.30 430.0 v-5.0 M254.30 36.0 v5.0 M274.01 430.0 v-3.2 M274.01 36.0 v3.2 M293.72 430.0 v-3.2 M293.72 36.0 v3.2 M313.43 430.0 v-3.2 M313.43 36.0 v3.2 M333.14 430.0 v-5.0 M333.14 36.0 v5.0 M352.85 430.0 v-3.2 M352.85 36.0 v3.2 M372.56 430.0 v-3.2 M372.56 36.0 v3.2 M392.27 430.0 v-3.2 M392.27 36.0 v3.2 M411.98 430.0 v-5.0 M411.98 36.0 v5.0 M431.69 430.0 v-3.2 M431.69 36.0 v3.2 M57.2 430.00 h5.0 M451.4 430.00 h-5.0 M57.2 410.30 h3.2 M451.4 410.30 h-3.2 M57.2 390.60 h3.2 M451.4 390.60 h-3.2 M57.2 370.90 h3.2 M451.4 370.90 h-3.2 M57.2 351.20 h3.2 M451.4 351.20 h-3.2 M57.2 331.50 h5.0 M451.4 331.50 h-5.0 M57.2 311.80 h3.2 M451.4 311.80 h-3.2 M57.2 292.10 h3.2 M451.4 292.10 h-3.2 M57.2 272.40 h3.2 M451.4 272.40 h-3.2 M57.2 252.70 h3.2 M451.4 252.70 h-3.2 M57.2 233.00 h5.0 M451.4 233.00 h-5.0 M57.2 213.30 h3.2 M451.4 213.30 h-3.2 M57.2 193.60 h3.2 M451.4 193.60 h-3.2 M57.2 173.90 h3.2 M451.4 173.90 h-3.2 M57.2 154.20 h3.2 M451.4 154.20 h-3.2 M57.2 134.50 h5.0 M451.4 134.50 h-5.0 M57.2 114.80 h3.2 M451.4 114.80 h-3.2 M57.2 95.10 h3.2 M451.4 95.10 h-3.2 M57.2 75.40 h3.2 M451.4 75.40 h-3.2 M57.2 55.70 h3.2 M451.4 55.70 h-3.2 M57.2 36.00 h5.0 M451.4 36.00 h-5.0" stroke="#1c1c1c" stroke-width="1.4" fill="none"/>
<clipPath id="ring"><path clip-rule="evenodd" d="M56.1 34.9 H452.5 V431.1 H56.1 Z M57.95 36.75 V429.25 H450.65 V36.75 Z"/></clipPath>
<g clip-path="url(#ring)">
<line x1="55.2" x2="453.4" y1="155.9" y2="155.9" stroke="#B05800" stroke-width="2.0"/>
<line x1="55.2" x2="453.4" y1="213.7" y2="213.7" stroke="#B05800" stroke-width="2.0"/>
<line x1="55.2" x2="453.4" y1="255.55" y2="255.55" stroke="#B05800" stroke-width="2.0"/>
<line x1="55.2" x2="453.4" y1="313.0" y2="313.0" stroke="#B05800" stroke-width="2.0"/>
<line y1="34.0" y2="432.0" x1="157.4" x2="157.4" stroke="#00AA00" stroke-width="2.0"/>
<line y1="34.0" y2="432.0" x1="202.0" x2="202.0" stroke="#00AA00" stroke-width="2.0"/>
<line y1="34.0" y2="432.0" x1="339.2" x2="339.2" stroke="#00AA00" stroke-width="2.0"/>
<line y1="34.0" y2="432.0" x1="383.4" x2="383.4" stroke="#00AA00" stroke-width="2.0"/>
<path d="M 116.07 30.00 L 117.44 32.04 L 118.80 34.08 L 120.17 36.12 L 121.53 38.16 L 122.89 40.20 L 124.24 42.24 L 125.60 44.28 L 126.95 46.32 L 128.30 48.36 L 129.65 50.40 L 131.00 52.44 L 132.34 54.48 L 133.68 56.52 L 135.02 58.56 L 136.36 60.60 L 137.69 62.64 L 139.03 64.68 L 140.35 66.72 L 141.68 68.76 L 143.00 70.80 L 144.32 72.84 L 145.64 74.88 L 146.95 76.92 L 148.26 78.96 L 149.57 81.01 L 150.88 83.05 L 152.18 85.09 L 153.47 87.13 L 154.76 89.17 L 156.05 91.21 L 157.34 93.25 L 158.62 95.29 L 159.89 97.33 L 161.16 99.37 L 162.43 101.41 L 163.69 103.45 L 164.95 105.49 L 166.20 107.53 L 167.44 109.57 L 168.68 111.61 L 169.92 113.65 L 171.15 115.69 L 172.37 117.73 L 173.58 119.77 L 174.79 121.81 L 175.99 123.85 L 177.19 125.89 L 178.37 127.93 L 179.55 129.97 L 180.72 132.01 L 181.89 134.05 L 183.04 136.09 L 184.19 138.13 L 185.32 140.17 L 186.45 142.21 L 187.56 144.25 L 188.66 146.29 L 189.76 148.33 L 190.84 150.37 L 191.91 152.41 L 192.97 154.45 L 194.01 156.49 L 195.04 158.53 L 196.06 160.57 L 197.06 162.61 L 198.05 164.65 L 199.02 166.69 L 199.97 168.73 L 200.91 170.77 L 201.83 172.81 L 202.73 174.85 L 203.61 176.89 L 204.48 178.93 L 205.32 180.97 L 206.14 183.02 L 206.94 185.06 L 207.71 187.10 L 208.46 189.14 L 209.19 191.18 L 209.89 193.22 L 210.56 195.26 L 211.20 197.30 L 211.82 199.34 L 212.41 201.38 L 212.97 203.42 L 213.49 205.46 L 213.99 207.50 L 214.45 209.54 L 214.88 211.58 L 215.28 213.62 L 215.64 215.66 L 215.96 217.70 L 216.25 219.74 L 216.50 221.78 L 216.72 223.82 L 216.90 225.86 L 217.03 227.90 L 217.14 229.94 L 217.20 231.98 L 217.22 234.02 L 217.21 236.06 L 217.15 238.10 L 217.06 240.14 L 216.93 242.18 L 216.76 244.22 L 216.56 246.26 L 216.31 248.30 L 216.03 250.34 L 215.72 252.38 L 215.37 254.42 L 214.98 256.46 L 214.56 258.50 L 214.10 260.54 L 213.61 262.58 L 213.09 264.62 L 212.54 266.66 L 211.96 268.70 L 211.35 270.74 L 210.71 272.78 L 210.05 274.82 L 209.35 276.86 L 208.63 278.90 L 207.89 280.94 L 207.12 282.98 L 206.33 285.03 L 205.51 287.07 L 204.68 289.11 L 203.82 291.15 L 202.94 293.19 L 202.04 295.23 L 201.13 297.27 L 200.20 299.31 L 199.25 301.35 L 198.28 303.39 L 197.29 305.43 L 196.30 307.47 L 195.28 309.51 L 194.25 311.55 L 193.21 313.59 L 192.16 315.63 L 191.09 317.67 L 190.01 319.71 L 188.92 321.75 L 187.82 323.79 L 186.71 325.83 L 185.59 327.87 L 184.45 329.91 L 183.31 331.95 L 182.16 333.99 L 181.00 336.03 L 179.83 338.07 L 178.65 340.11 L 177.47 342.15 L 176.27 344.19 L 175.08 346.23 L 173.87 348.27 L 172.65 350.31 L 171.43 352.35 L 170.21 354.39 L 168.97 356.43 L 167.74 358.47 L 166.49 360.51 L 165.24 362.55 L 163.99 364.59 L 162.73 366.63 L 161.46 368.67 L 160.19 370.71 L 158.92 372.75 L 157.64 374.79 L 156.35 376.83 L 155.07 378.87 L 153.78 380.91 L 152.48 382.95 L 151.18 384.99 L 149.88 387.04 L 148.57 389.08 L 147.26 391.12 L 145.95 393.16 L 144.63 395.20 L 143.31 397.24 L 141.99 399.28 L 140.67 401.32 L 139.34 403.36 L 138.01 405.40 L 136.67 407.44 L 135.34 409.48 L 134.00 411.52 L 132.66 413.56 L 131.31 415.60 L 129.97 417.64 L 128.62 419.68 L 127.27 421.72 L 125.92 423.76 L 124.56 425.80 L 123.21 427.84 L 121.85 429.88 L 120.49 431.92 L 119.12 433.96 L 117.76 436.00" fill="none" stroke="#55005A" stroke-width="2.2"/>
<path d="M 22.83 30.00 L 25.05 32.04 L 27.26 34.08 L 29.47 36.12 L 31.68 38.16 L 33.88 40.20 L 36.07 42.24 L 38.26 44.28 L 40.45 46.32 L 42.63 48.36 L 44.80 50.40 L 46.97 52.44 L 49.13 54.48 L 51.29 56.52 L 53.44 58.56 L 55.59 60.60 L 57.73 62.64 L 59.87 64.68 L 61.99 66.72 L 64.12 68.76 L 66.23 70.80 L 68.34 72.84 L 70.44 74.88 L 72.53 76.92 L 74.62 78.96 L 76.69 81.01 L 78.76 83.05 L 80.83 85.09 L 82.88 87.13 L 84.92 89.17 L 86.96 91.21 L 88.98 93.25 L 91.00 95.29 L 93.01 97.33 L 95.00 99.37 L 96.99 101.41 L 98.96 103.45 L 100.93 105.49 L 102.88 107.53 L 104.82 109.57 L 106.75 111.61 L 108.67 113.65 L 110.57 115.69 L 112.46 117.73 L 114.34 119.77 L 116.20 121.81 L 118.05 123.85 L 119.89 125.89 L 121.70 127.93 L 123.51 129.97 L 125.29 132.01 L 127.06 134.05 L 128.81 136.09 L 130.54 138.13 L 132.26 140.17 L 133.95 142.21 L 135.63 144.25 L 137.29 146.29 L 138.92 148.33 L 140.53 150.37 L 142.12 152.41 L 143.69 154.45 L 145.23 156.49 L 146.75 158.53 L 148.24 160.57 L 149.71 162.61 L 151.15 164.65 L 152.56 166.69 L 153.94 168.73 L 155.30 170.77 L 156.62 172.81 L 157.92 174.85 L 159.18 176.89 L 160.40 178.93 L 161.60 180.97 L 162.76 183.02 L 163.88 185.06 L 164.97 187.10 L 166.02 189.14 L 167.03 191.18 L 168.00 193.22 L 168.94 195.26 L 169.83 197.30 L 170.68 199.34 L 171.48 201.38 L 172.25 203.42 L 172.97 205.46 L 173.64 207.50 L 174.27 209.54 L 174.85 211.58 L 175.38 213.62 L 175.87 215.66 L 176.31 217.70 L 176.70 219.74 L 177.03 221.78 L 177.32 223.82 L 177.56 225.86 L 177.75 227.90 L 177.89 229.94 L 177.97 231.98 L 178.01 234.02 L 177.99 236.06 L 177.93 238.10 L 177.81 240.14 L 177.64 242.18 L 177.42 244.22 L 177.15 246.26 L 176.83 248.30 L 176.46 250.34 L 176.04 252.38 L 175.57 254.42 L 175.06 256.46 L 174.49 258.50 L 173.88 260.54 L 173.23 262.58 L 172.53 264.62 L 171.78 266.66 L 170.99 268.70 L 170.15 270.74 L 169.28 272.78 L 168.36 274.82 L 167.40 276.86 L 166.41 278.90 L 165.37 280.94 L 164.30 282.98 L 163.19 285.03 L 162.04 287.07 L 160.86 289.11 L 159.64 291.15 L 158.40 293.19 L 157.12 295.23 L 155.80 297.27 L 154.46 299.31 L 153.09 301.35 L 151.69 303.39 L 150.26 305.43 L 148.80 307.47 L 147.32 309.51 L 145.81 311.55 L 144.27 313.59 L 142.72 315.63 L 141.14 317.67 L 139.53 319.71 L 137.91 321.75 L 136.26 323.79 L 134.59 325.83 L 132.90 327.87 L 131.20 329.91 L 129.47 331.95 L 127.73 333.99 L 125.96 336.03 L 124.18 338.07 L 122.39 340.11 L 120.58 342.15 L 118.75 344.19 L 116.91 346.23 L 115.05 348.27 L 113.18 350.31 L 111.29 352.35 L 109.39 354.39 L 107.48 356.43 L 105.55 358.47 L 103.62 360.51 L 101.67 362.55 L 99.71 364.59 L 97.74 366.63 L 95.76 368.67 L 93.76 370.71 L 91.76 372.75 L 89.75 374.79 L 87.73 376.83 L 85.69 378.87 L 83.65 380.91 L 81.60 382.95 L 79.54 384.99 L 77.48 387.04 L 75.40 389.08 L 73.32 391.12 L 71.23 393.16 L 69.13 395.20 L 67.03 397.24 L 64.92 399.28 L 62.80 401.32 L 60.67 403.36 L 58.54 405.40 L 56.40 407.44 L 54.26 409.48 L 52.11 411.52 L 49.95 413.56 L 47.79 415.60 L 45.62 417.64 L 43.45 419.68 L 41.27 421.72 L 39.09 423.76 L 36.90 425.80 L 34.71 427.84 L 32.51 429.88 L 30.31 431.92 L 28.10 433.96 L 25.89 436.00" fill="none" stroke="#55005A" stroke-width="2.2"/>
<path d="M 425.05 30.00 L 423.66 32.04 L 422.28 34.08 L 420.90 36.12 L 419.52 38.16 L 418.15 40.20 L 416.78 42.24 L 415.40 44.28 L 414.04 46.32 L 412.67 48.36 L 411.30 50.40 L 409.94 52.44 L 408.58 54.48 L 407.23 56.52 L 405.87 58.56 L 404.52 60.60 L 403.18 62.64 L 401.83 64.68 L 400.49 66.72 L 399.15 68.76 L 397.82 70.80 L 396.49 72.84 L 395.16 74.88 L 393.83 76.92 L 392.51 78.96 L 391.20 81.01 L 389.88 83.05 L 388.57 85.09 L 387.27 87.13 L 385.97 89.17 L 384.67 91.21 L 383.38 93.25 L 382.10 95.29 L 380.81 97.33 L 379.54 99.37 L 378.27 101.41 L 377.00 103.45 L 375.74 105.49 L 374.49 107.53 L 373.24 109.57 L 372.00 111.61 L 370.76 113.65 L 369.53 115.69 L 368.31 117.73 L 367.10 119.77 L 365.89 121.81 L 364.69 123.85 L 363.50 125.89 L 362.32 127.93 L 361.14 129.97 L 359.97 132.01 L 358.82 134.05 L 357.67 136.09 L 356.53 138.13 L 355.40 140.17 L 354.29 142.21 L 353.18 144.25 L 352.09 146.29 L 351.01 148.33 L 349.93 150.37 L 348.88 152.41 L 347.83 154.45 L 346.80 156.49 L 345.79 158.53 L 344.78 160.57 L 343.80 162.61 L 342.83 164.65 L 341.87 166.69 L 340.94 168.73 L 340.02 170.77 L 339.12 172.81 L 338.23 174.85 L 337.37 176.89 L 336.53 178.93 L 335.71 180.97 L 334.91 183.02 L 334.13 185.06 L 333.38 187.10 L 332.65 189.14 L 331.95 191.18 L 331.27 193.22 L 330.61 195.26 L 329.99 197.30 L 329.39 199.34 L 328.82 201.38 L 328.28 203.42 L 327.77 205.46 L 327.30 207.50 L 326.85 209.54 L 326.43 211.58 L 326.05 213.62 L 325.70 215.66 L 325.39 217.70 L 325.11 219.74 L 324.87 221.78 L 324.66 223.82 L 324.48 225.86 L 324.35 227.90 L 324.25 229.94 L 324.18 231.98 L 324.15 234.02 L 324.16 236.06 L 324.21 238.10 L 324.29 240.14 L 324.41 242.18 L 324.56 244.22 L 324.75 246.26 L 324.98 248.30 L 325.24 250.34 L 325.54 252.38 L 325.87 254.42 L 326.24 256.46 L 326.63 258.50 L 327.06 260.54 L 327.53 262.58 L 328.02 264.62 L 328.54 266.66 L 329.10 268.70 L 329.68 270.74 L 330.29 272.78 L 330.93 274.82 L 331.60 276.86 L 332.29 278.90 L 333.00 280.94 L 333.75 282.98 L 334.51 285.03 L 335.30 287.07 L 336.11 289.11 L 336.94 291.15 L 337.79 293.19 L 338.66 295.23 L 339.55 297.27 L 340.46 299.31 L 341.39 301.35 L 342.34 303.39 L 343.30 305.43 L 344.28 307.47 L 345.27 309.51 L 346.28 311.55 L 347.30 313.59 L 348.34 315.63 L 349.39 317.67 L 350.46 319.71 L 351.53 321.75 L 352.62 323.79 L 353.72 325.83 L 354.83 327.87 L 355.96 329.91 L 357.09 331.95 L 358.23 333.99 L 359.38 336.03 L 360.54 338.07 L 361.71 340.11 L 362.89 342.15 L 364.08 344.19 L 365.28 346.23 L 366.48 348.27 L 367.69 350.31 L 368.91 352.35 L 370.13 354.39 L 371.37 356.43 L 372.60 358.47 L 373.85 360.51 L 375.10 362.55 L 376.36 364.59 L 377.62 366.63 L 378.89 368.67 L 380.16 370.71 L 381.44 372.75 L 382.73 374.79 L 384.01 376.83 L 385.31 378.87 L 386.61 380.91 L 387.91 382.95 L 389.21 384.99 L 390.53 387.04 L 391.84 389.08 L 393.16 391.12 L 394.48 393.16 L 395.81 395.20 L 397.14 397.24 L 398.47 399.28 L 399.81 401.32 L 401.15 403.36 L 402.49 405.40 L 403.84 407.44 L 405.18 409.48 L 406.54 411.52 L 407.89 413.56 L 409.25 415.60 L 410.61 417.64 L 411.97 419.68 L 413.34 421.72 L 414.70 423.76 L 416.07 425.80 L 417.45 427.84 L 418.82 429.88 L 420.20 431.92 L 421.58 433.96 L 422.96 436.00" fill="none" stroke="#55005A" stroke-width="2.2"/>
<path d="M 522.53 30.00 L 520.21 32.04 L 517.89 34.08 L 515.58 36.12 L 513.27 38.16 L 510.97 40.20 L 508.68 42.24 L 506.39 44.28 L 504.10 46.32 L 501.83 48.36 L 499.55 50.40 L 497.29 52.44 L 495.03 54.48 L 492.78 56.52 L 490.53 58.56 L 488.30 60.60 L 486.07 62.64 L 483.84 64.68 L 481.63 66.72 L 479.42 68.76 L 477.22 70.80 L 475.03 72.84 L 472.85 74.88 L 470.67 76.92 L 468.51 78.96 L 466.35 81.01 L 464.20 83.05 L 462.06 85.09 L 459.94 87.13 L 457.82 89.17 L 455.71 91.21 L 453.61 93.25 L 451.53 95.29 L 449.46 97.33 L 447.39 99.37 L 445.34 101.41 L 443.30 103.45 L 441.28 105.49 L 439.27 107.53 L 437.27 109.57 L 435.28 111.61 L 433.31 113.65 L 431.35 115.69 L 429.41 117.73 L 427.49 119.77 L 425.58 121.81 L 423.68 123.85 L 421.81 125.89 L 419.95 127.93 L 418.11 129.97 L 416.28 132.01 L 414.48 134.05 L 412.69 136.09 L 410.93 138.13 L 409.18 140.17 L 407.46 142.21 L 405.76 144.25 L 404.08 146.29 L 402.42 148.33 L 400.79 150.37 L 399.18 152.41 L 397.60 154.45 L 396.04 156.49 L 394.51 158.53 L 393.00 160.57 L 391.53 162.61 L 390.08 164.65 L 388.66 166.69 L 387.27 168.73 L 385.92 170.77 L 384.59 172.81 L 383.30 174.85 L 382.04 176.89 L 380.82 178.93 L 379.63 180.97 L 378.47 183.02 L 377.35 185.06 L 376.27 187.10 L 375.23 189.14 L 374.23 191.18 L 373.27 193.22 L 372.35 195.26 L 371.46 197.30 L 370.63 199.34 L 369.83 201.38 L 369.08 203.42 L 368.37 205.46 L 367.71 207.50 L 367.09 209.54 L 366.52 211.58 L 366.00 213.62 L 365.52 215.66 L 365.10 217.70 L 364.72 219.74 L 364.38 221.78 L 364.10 223.82 L 363.87 225.86 L 363.69 227.90 L 363.55 229.94 L 363.47 231.98 L 363.44 234.02 L 363.45 236.06 L 363.52 238.10 L 363.64 240.14 L 363.80 242.18 L 364.02 244.22 L 364.28 246.26 L 364.60 248.30 L 364.96 250.34 L 365.37 252.38 L 365.83 254.42 L 366.34 256.46 L 366.89 258.50 L 367.50 260.54 L 368.14 262.58 L 368.83 264.62 L 369.57 266.66 L 370.35 268.70 L 371.18 270.74 L 372.04 272.78 L 372.95 274.82 L 373.90 276.86 L 374.89 278.90 L 375.92 280.94 L 376.98 282.98 L 378.09 285.03 L 379.23 287.07 L 380.41 289.11 L 381.62 291.15 L 382.87 293.19 L 384.15 295.23 L 385.46 297.27 L 386.81 299.31 L 388.19 301.35 L 389.59 303.39 L 391.03 305.43 L 392.50 307.47 L 393.99 309.51 L 395.51 311.55 L 397.06 313.59 L 398.64 315.63 L 400.24 317.67 L 401.86 319.71 L 403.51 321.75 L 405.18 323.79 L 406.88 325.83 L 408.59 327.87 L 410.33 329.91 L 412.09 331.95 L 413.87 333.99 L 415.67 336.03 L 417.48 338.07 L 419.32 340.11 L 421.17 342.15 L 423.04 344.19 L 424.93 346.23 L 426.84 348.27 L 428.76 350.31 L 430.69 352.35 L 432.64 354.39 L 434.61 356.43 L 436.59 358.47 L 438.59 360.51 L 440.59 362.55 L 442.61 364.59 L 444.65 366.63 L 446.69 368.67 L 448.75 370.71 L 450.82 372.75 L 452.90 374.79 L 455.00 376.83 L 457.10 378.87 L 459.21 380.91 L 461.34 382.95 L 463.47 384.99 L 465.62 387.04 L 467.77 389.08 L 469.93 391.12 L 472.10 393.16 L 474.29 395.20 L 476.47 397.24 L 478.67 399.28 L 480.88 401.32 L 483.09 403.36 L 485.31 405.40 L 487.54 407.44 L 489.77 409.48 L 492.02 411.52 L 494.26 413.56 L 496.52 415.60 L 498.78 417.64 L 501.05 419.68 L 503.33 421.72 L 505.61 423.76 L 507.90 425.80 L 510.19 427.84 L 512.49 429.88 L 514.79 431.92 L 517.10 433.96 L 519.42 436.00" fill="none" stroke="#55005A" stroke-width="2.2"/>
<path d="M 66.85 30.00 L 68.63 32.04 L 70.41 34.08 L 72.19 36.12 L 73.96 38.16 L 75.73 40.20 L 77.50 42.24 L 79.26 44.28 L 81.03 46.32 L 82.79 48.36 L 84.54 50.40 L 86.30 52.44 L 88.05 54.48 L 89.80 56.52 L 91.54 58.56 L 93.29 60.60 L 95.02 62.64 L 96.76 64.68 L 98.49 66.72 L 100.22 68.76 L 101.94 70.80 L 103.66 72.84 L 105.38 74.88 L 107.09 76.92 L 108.80 78.96 L 110.50 81.01 L 112.20 83.05 L 113.89 85.09 L 115.58 87.13 L 117.26 89.17 L 118.94 91.21 L 120.61 93.25 L 122.28 95.29 L 123.94 97.33 L 125.59 99.37 L 127.24 101.41 L 128.88 103.45 L 130.52 105.49 L 132.15 107.53 L 133.77 109.57 L 135.39 111.61 L 136.99 113.65 L 138.59 115.69 L 140.18 117.73 L 141.76 119.77 L 143.34 121.81 L 144.90 123.85 L 146.45 125.89 L 148.00 127.93 L 149.53 129.97 L 151.06 132.01 L 152.57 134.05 L 154.07 136.09 L 155.56 138.13 L 157.04 140.17 L 158.50 142.21 L 159.95 144.25 L 161.39 146.29 L 162.81 148.33 L 164.22 150.37 L 165.61 152.41 L 166.98 154.45 L 168.34 156.49 L 169.68 158.53 L 171.00 160.57 L 172.30 162.61 L 173.59 164.65 L 174.85 166.69 L 176.09 168.73 L 177.31 170.77 L 178.51 172.81 L 179.68 174.85 L 180.82 176.89 L 181.94 178.93 L 183.04 180.97 L 184.10 183.02 L 185.14 185.06 L 186.14 187.10 L 187.12 189.14 L 188.06 191.18 L 188.97 193.22 L 189.85 195.26 L 190.68 197.30 L 191.49 199.34 L 192.25 201.38 L 192.98 203.42 L 193.66 205.46 L 194.31 207.50 L 194.91 209.54 L 195.47 211.58 L 195.98 213.62 L 196.45 215.66 L 196.87 217.70 L 197.25 219.74 L 197.58 221.78 L 197.86 223.82 L 198.09 225.86 L 198.28 227.90 L 198.41 229.94 L 198.50 231.98 L 198.53 234.02 L 198.51 236.06 L 198.45 238.10 L 198.33 240.14 L 198.17 242.18 L 197.95 244.22 L 197.69 246.26 L 197.38 248.30 L 197.02 250.34 L 196.61 252.38 L 196.16 254.42 L 195.66 256.46 L 195.12 258.50 L 194.53 260.54 L 193.90 262.58 L 193.23 264.62 L 192.52 266.66 L 191.77 268.70 L 190.98 270.74 L 190.16 272.78 L 189.29 274.82 L 188.40 276.86 L 187.47 278.90 L 186.50 280.94 L 185.51 282.98 L 184.48 285.03 L 183.43 287.07 L 182.35 289.11 L 181.23 291.15 L 180.10 293.19 L 178.94 295.23 L 177.75 297.27 L 176.54 299.31 L 175.31 301.35 L 174.05 303.39 L 172.78 305.43 L 171.48 307.47 L 170.16 309.51 L 168.83 311.55 L 167.48 313.59 L 166.11 315.63 L 164.72 317.67 L 163.32 319.71 L 161.91 321.75 L 160.48 323.79 L 159.03 325.83 L 157.57 327.87 L 156.10 329.91 L 154.61 331.95 L 153.12 333.99 L 151.61 336.03 L 150.09 338.07 L 148.56 340.11 L 147.02 342.15 L 145.47 344.19 L 143.91 346.23 L 142.34 348.27 L 140.76 350.31 L 139.17 352.35 L 137.58 354.39 L 135.97 356.43 L 134.36 358.47 L 132.74 360.51 L 131.12 362.55 L 129.48 364.59 L 127.84 366.63 L 126.20 368.67 L 124.54 370.71 L 122.88 372.75 L 121.22 374.79 L 119.55 376.83 L 117.87 378.87 L 116.19 380.91 L 114.50 382.95 L 112.81 384.99 L 111.12 387.04 L 109.42 389.08 L 107.71 391.12 L 106.00 393.16 L 104.29 395.20 L 102.57 397.24 L 100.85 399.28 L 99.12 401.32 L 97.39 403.36 L 95.66 405.40 L 93.92 407.44 L 92.18 409.48 L 90.44 411.52 L 88.69 413.56 L 86.94 415.60 L 85.18 417.64 L 83.43 419.68 L 81.67 421.72 L 79.91 423.76 L 78.14 425.80 L 76.38 427.84 L 74.60 429.88 L 72.83 431.92 L 71.06 433.96 L 69.28 436.00" fill="none" stroke="#55005A" stroke-width="2.2" stroke-dasharray="3.5 2.8" stroke-dashoffset="4.496"/>
<path d="M 474.55 30.00 L 472.77 32.04 L 470.99 34.08 L 469.21 36.12 L 467.44 38.16 L 465.67 40.20 L 463.90 42.24 L 462.13 44.28 L 460.37 46.32 L 458.61 48.36 L 456.85 50.40 L 455.10 52.44 L 453.35 54.48 L 451.60 56.52 L 449.85 58.56 L 448.11 60.60 L 446.37 62.64 L 444.63 64.68 L 442.90 66.72 L 441.17 68.76 L 439.45 70.80 L 437.73 72.84 L 436.01 74.88 L 434.30 76.92 L 432.59 78.96 L 430.89 81.01 L 429.19 83.05 L 427.49 85.09 L 425.80 87.13 L 424.12 89.17 L 422.44 91.21 L 420.77 93.25 L 419.10 95.29 L 417.43 97.33 L 415.78 99.37 L 414.13 101.41 L 412.48 103.45 L 410.84 105.49 L 409.21 107.53 L 407.59 109.57 L 405.97 111.61 L 404.36 113.65 L 402.76 115.69 L 401.17 117.73 L 399.59 119.77 L 398.01 121.81 L 396.44 123.85 L 394.89 125.89 L 393.34 127.93 L 391.80 129.97 L 390.27 132.01 L 388.76 134.05 L 387.25 136.09 L 385.76 138.13 L 384.28 140.17 L 382.81 142.21 L 381.36 144.25 L 379.92 146.29 L 378.49 148.33 L 377.08 150.37 L 375.69 152.41 L 374.31 154.45 L 372.95 156.49 L 371.60 158.53 L 370.27 160.57 L 368.97 162.61 L 367.68 164.65 L 366.41 166.69 L 365.17 168.73 L 363.94 170.77 L 362.74 172.81 L 361.57 174.85 L 360.41 176.89 L 359.29 178.93 L 358.19 180.97 L 357.12 183.02 L 356.08 185.06 L 355.07 187.10 L 354.09 189.14 L 353.14 191.18 L 352.23 193.22 L 351.35 195.26 L 350.50 197.30 L 349.70 199.34 L 348.93 201.38 L 348.20 203.42 L 347.51 205.46 L 346.86 207.50 L 346.26 209.54 L 345.70 211.58 L 345.18 213.62 L 344.71 215.66 L 344.28 217.70 L 343.90 219.74 L 343.57 221.78 L 343.29 223.82 L 343.06 225.86 L 342.87 227.90 L 342.74 229.94 L 342.66 231.98 L 342.62 234.02 L 342.64 236.06 L 342.71 238.10 L 342.83 240.14 L 342.99 242.18 L 343.21 244.22 L 343.48 246.26 L 343.79 248.30 L 344.16 250.34 L 344.57 252.38 L 345.03 254.42 L 345.53 256.46 L 346.08 258.50 L 346.67 260.54 L 347.30 262.58 L 347.98 264.62 L 348.70 266.66 L 349.45 268.70 L 350.25 270.74 L 351.08 272.78 L 351.95 274.82 L 352.85 276.86 L 353.79 278.90 L 354.76 280.94 L 355.76 282.98 L 356.79 285.03 L 357.85 287.07 L 358.94 289.11 L 360.06 291.15 L 361.20 293.19 L 362.37 295.23 L 363.56 297.27 L 364.78 299.31 L 366.02 301.35 L 367.28 303.39 L 368.56 305.43 L 369.86 307.47 L 371.18 309.51 L 372.52 311.55 L 373.88 313.59 L 375.25 315.63 L 376.64 317.67 L 378.05 319.71 L 379.47 321.75 L 380.91 323.79 L 382.36 325.83 L 383.82 327.87 L 385.30 329.91 L 386.79 331.95 L 388.29 333.99 L 389.80 336.03 L 391.32 338.07 L 392.86 340.11 L 394.40 342.15 L 395.96 344.19 L 397.52 346.23 L 399.09 348.27 L 400.67 350.31 L 402.26 352.35 L 403.86 354.39 L 405.47 356.43 L 407.08 358.47 L 408.71 360.51 L 410.33 362.55 L 411.97 364.59 L 413.61 366.63 L 415.26 368.67 L 416.92 370.71 L 418.58 372.75 L 420.24 374.79 L 421.92 376.83 L 423.59 378.87 L 425.28 380.91 L 426.96 382.95 L 428.66 384.99 L 430.36 387.04 L 432.06 389.08 L 433.76 391.12 L 435.48 393.16 L 437.19 395.20 L 438.91 397.24 L 440.63 399.28 L 442.36 401.32 L 444.09 403.36 L 445.83 405.40 L 447.56 407.44 L 449.31 409.48 L 451.05 411.52 L 452.80 413.56 L 454.55 415.60 L 456.30 417.64 L 458.06 419.68 L 459.82 421.72 L 461.58 423.76 L 463.35 425.80 L 465.12 427.84 L 466.89 429.88 L 468.66 431.92 L 470.43 433.96 L 472.21 436.00" fill="none" stroke="#55005A" stroke-width="2.2" stroke-dasharray="3.5 2.8" stroke-dashoffset="3.789"/>
<line x1="53.1" x2="454.4" y1="173.8" y2="173.8" stroke="#B05800" stroke-width="2.0" stroke-dasharray="3.5 2.8"/>
<line x1="54.64" x2="454.4" y1="295.4" y2="295.4" stroke="#B05800" stroke-width="2.0" stroke-dasharray="3.5 2.8"/>
<line y1="31.7" y2="433.0" x1="178.9" x2="178.9" stroke="#00AA00" stroke-width="2.0" stroke-dasharray="3.5 2.8"/>
<line y1="30.38" y2="433.0" x1="362.1" x2="362.1" stroke="#00AA00" stroke-width="2.0" stroke-dasharray="3.5 2.8"/>
</g>
<filter id="idf" x="0" y="0" width="685" height="485" filterUnits="userSpaceOnUse" color-interpolation-filters="sRGB"><feOffset dx="0" dy="0"/></filter>
<g filter="url(#idf)">
<rect x="78.12" y="442.90" width="7.20" height="1.4" fill="#000"/>
<text x="86.62" y="447.8" textLength="28.7" lengthAdjust="spacingAndGlyphs" font-family="Liberation Sans, sans-serif" font-size="15.8" fill="#000" stroke="#000" stroke-width="0.12" text-rendering="geometricPrecision">0.06</text>
<rect x="156.96" y="442.90" width="7.20" height="1.4" fill="#000"/>
<text x="165.46" y="447.8" textLength="28.7" lengthAdjust="spacingAndGlyphs" font-family="Liberation Sans, sans-serif" font-size="15.8" fill="#000" stroke="#000" stroke-width="0.12" text-rendering="geometricPrecision">0.04</text>
<rect x="235.80" y="442.90" width="7.20" height="1.4" fill="#000"/>
<text x="244.30" y="447.8" textLength="28.7" lengthAdjust="spacingAndGlyphs" font-family="Liberation Sans, sans-serif" font-size="15.8" fill="#000" stroke="#000" stroke-width="0.12" text-rendering="geometricPrecision">0.02</text>
<text x="318.99" y="447.8" textLength="28.7" lengthAdjust="spacingAndGlyphs" font-family="Liberation Sans, sans-serif" font-size="15.8" fill="#000" stroke="#000" stroke-width="0.12" text-rendering="geometricPrecision">0.00</text>
<text x="397.83" y="447.8" textLength="28.7" lengthAdjust="spacingAndGlyphs" font-family="Liberation Sans, sans-serif" font-size="15.8" fill="#000" stroke="#000" stroke-width="0.12" text-rendering="geometricPrecision">0.02</text>
<text x="45.15" y="41.70" textLength="8.05" lengthAdjust="spacingAndGlyphs" font-family="Liberation Sans, sans-serif" font-size="15.8" fill="#000" stroke="#000" stroke-width="0.12" text-rendering="geometricPrecision">2</text>
<path d="M50.55 129.20 L50.55 140.30 L49.0 140.30 L49.0 131.90 C48.2 132.60 47.2 133.10 46.0 133.40 L46.0 132.00 C47.6 131.50 48.9 130.40 49.5 129.20 Z" fill="#000"/>
<text x="45.15" y="238.70" textLength="8.05" lengthAdjust="spacingAndGlyphs" font-family="Liberation Sans, sans-serif" font-size="15.8" fill="#000" stroke="#000" stroke-width="0.12" text-rendering="geometricPrecision">0</text>
<path d="M50.55 326.20 L50.55 337.30 L49.0 337.30 L49.0 328.90 C48.2 329.60 47.2 330.10 46.0 330.40 L46.0 329.00 C47.6 328.50 48.9 327.40 49.5 326.20 Z" fill="#000"/>
<rect x="36.90" y="332.20" width="7.20" height="1.4" fill="#000"/>
<text x="45.15" y="435.70" textLength="8.05" lengthAdjust="spacingAndGlyphs" font-family="Liberation Sans, sans-serif" font-size="15.8" fill="#000" stroke="#000" stroke-width="0.12" text-rendering="geometricPrecision">2</text>
<rect x="36.90" y="430.70" width="7.20" height="1.4" fill="#000"/>
<polygon points="333.00,225.85 334.70,230.90 340.04,230.96 335.76,234.15 337.35,239.24 333.00,236.15 328.65,239.24 330.24,234.15 325.96,230.96 331.30,230.90" fill="#000"/>
<text x="290.6" y="238.4" font-family="Liberation Serif, serif" fill="#000" font-size="22.4" textLength="29.6" lengthAdjust="spacingAndGlyphs">SM</text>
<text x="200.2" y="18.2" font-family="Liberation Serif, serif" fill="#000" font-style="italic" font-size="21"  textLength="16.3" lengthAdjust="spacingAndGlyphs">C</text>
<text x="216.4" y="9.2" font-family="Liberation Serif, serif" fill="#000" font-size="13.2" stroke="#000" stroke-width="0.22" textLength="6.9" lengthAdjust="spacingAndGlyphs">e</text>
<text x="216.0" y="23.0" font-family="Liberation Serif, serif" fill="#000" font-style="italic" font-size="15" stroke="#000" stroke-width="0.1" textLength="10.4" lengthAdjust="spacingAndGlyphs">P</text>
<text x="226.6" y="23.0" font-family="Liberation Serif, serif" fill="#000" font-size="13.5" stroke="#000" stroke-width="0.22" >,</text>
<text x="230.4" y="23.0" font-family="Liberation Serif, serif" fill="#000" font-style="italic" font-size="15" stroke="#000" stroke-width="0.1" textLength="8.4" lengthAdjust="spacingAndGlyphs">S</text>
<path d="M247.0 10.5 H261.1 M247.0 14.35 H261.1" stroke="#000" stroke-width="1.15" stroke-linecap="round" fill="none"/>
<text x="267.4" y="18.2" font-family="Liberation Serif, serif" fill="#000" font-style="italic" font-size="21"  textLength="16.3" lengthAdjust="spacingAndGlyphs">C</text>
<text x="285.2" y="8.7" font-family="Liberation Serif, serif" fill="#000" font-style="italic" font-size="13.6" stroke="#000" stroke-width="0.1" textLength="8.4" lengthAdjust="spacingAndGlyphs">μ</text>
<text x="283.6" y="23.0" font-family="Liberation Serif, serif" fill="#000" font-style="italic" font-size="15" stroke="#000" stroke-width="0.1" textLength="10.4" lengthAdjust="spacingAndGlyphs">P</text>
<text x="294.2" y="23.0" font-family="Liberation Serif, serif" fill="#000" font-size="13.5" stroke="#000" stroke-width="0.22" >,</text>
<text x="298.0" y="23.0" font-family="Liberation Serif, serif" fill="#000" font-style="italic" font-size="15" stroke="#000" stroke-width="0.1" textLength="8.4" lengthAdjust="spacingAndGlyphs">S</text>
<text x="240.0" y="479.8" font-family="Liberation Serif, serif" fill="#000" font-style="italic" font-size="21"  textLength="16.3" lengthAdjust="spacingAndGlyphs">C</text>
<text x="258.0" y="470.3" font-family="Liberation Serif, serif" fill="#000" font-style="italic" font-size="13.6" stroke="#000" stroke-width="0.1" textLength="8.4" lengthAdjust="spacingAndGlyphs">μ</text>
<text x="256.4" y="484.8" font-family="Liberation Serif, serif" fill="#000" font-style="italic" font-size="15" stroke="#000" stroke-width="0.1" textLength="10.4" lengthAdjust="spacingAndGlyphs">P</text>
<text x="-1.5" y="238.6" font-family="Liberation Serif, serif" fill="#000" font-style="italic" font-size="21"  textLength="16.3" lengthAdjust="spacingAndGlyphs">C</text>
<text x="15.5" y="228.2" font-family="Liberation Serif, serif" fill="#000" font-style="italic" font-size="13.6" stroke="#000" stroke-width="0.1" textLength="8.4" lengthAdjust="spacingAndGlyphs">μ</text>
<text x="14.4" y="243.6" font-family="Liberation Serif, serif" fill="#000" font-style="italic" font-size="15" stroke="#000" stroke-width="0.1" textLength="8.4" lengthAdjust="spacingAndGlyphs">S</text>
<rect x="472.2" y="183.5" width="11.4" height="11.4" fill="#FEE8D6" stroke="#E8BC92" stroke-width="1"/>
<g transform="translate(0,0)" fill="none" stroke="#000" stroke-linecap="round" stroke-linejoin="round"><path d="M495.5 184.4 C496.2 182.2 498.6 180.6 502 180.5 L505 180.5" stroke-width="1.25"/><path d="M504 180.5 C508 180.5 510.4 181.7 510.3 184" stroke-width="1.3"/><path d="M510.3 184 C510.2 186.4 507 188.2 502.8 188.4" stroke-width="1.7"/><path d="M501.5 181 L498 194.5" stroke-width="2.1"/><path d="M502.9 188.3 C504.1 190.4 505.3 193.9 507.9 194.0" stroke-width="2.25"/><path d="M507.9 194.1 C510 194.2 511.5 193.2 512.4 192.1" stroke-width="1.1"/></g>
<path d="M522.60 177.00 L513.80 181.30 L522.60 185.60" fill="none" stroke="#000" stroke-width="1"/>
<text x="524.6" y="185.2" font-family="Liberation Serif, serif" fill="#000" font-style="italic" font-size="13.5" stroke="#000" stroke-width="0.1" >e</text>
<text x="531.6" y="185.2" font-family="Liberation Serif, serif" fill="#000" font-size="13.5" stroke="#000" stroke-width="0.22" >,</text>
<text x="534.8000000000001" y="185.2" font-family="Liberation Serif, serif" fill="#000" font-style="italic" font-size="14" stroke="#000" stroke-width="0.1" textLength="8.6" lengthAdjust="spacingAndGlyphs">μ</text>
<path d="M545.30 177.00 L554.10 181.30 L545.30 185.60" fill="none" stroke="#000" stroke-width="1"/>
<text x="557.0" y="185.2" font-family="Liberation Serif, serif" fill="#000" font-size="13.5" stroke="#000" stroke-width="0.22" >;</text>
<text x="561.4000000000001" y="185.2" font-family="Liberation Serif, serif" fill="#000" font-style="italic" font-size="12.8" stroke="#000" stroke-width="0.1" textLength="7.4" lengthAdjust="spacingAndGlyphs">ρ</text>
<path d="M522.60 190.80 L513.80 195.10 L522.60 199.40" fill="none" stroke="#000" stroke-width="1"/>
<text x="524.6" y="198.9" font-family="Liberation Serif, serif" fill="#000" font-style="italic" font-size="13.5" stroke="#000" stroke-width="0.1" >e</text>
<text x="531.6" y="198.9" font-family="Liberation Serif, serif" fill="#000" font-size="13.5" stroke="#000" stroke-width="0.22" >,</text>
<text x="534.8000000000001" y="198.9" font-family="Liberation Serif, serif" fill="#000" font-style="italic" font-size="14" stroke="#000" stroke-width="0.1" textLength="8.6" lengthAdjust="spacingAndGlyphs">μ</text>
<path d="M545.30 190.80 L554.10 195.10 L545.30 199.40" fill="none" stroke="#000" stroke-width="1"/>
<text x="557.0" y="198.9" font-family="Liberation Serif, serif" fill="#000" font-size="13.5" stroke="#000" stroke-width="0.22" >;</text>
<text x="561.0" y="198.9" font-family="Liberation Serif, serif" fill="#000" font-style="italic" font-size="12.6" stroke="#000" stroke-width="0.1" textLength="8.4" lengthAdjust="spacingAndGlyphs">π</text>
<text x="576.2" y="184.3" font-family="Liberation Serif, serif" fill="#000" font-size="13.5" stroke="#000" stroke-width="0.22" >[</text>
<text x="579.6" y="184.3" font-family="Liberation Serif, serif" fill="#000" font-size="13.5" stroke="#000" stroke-width="0.22" >0</text>
<path d="M597.10 176.50 L588.70 180.10 L597.10 183.70 M588.40 186.40 H597.30" fill="none" stroke="#000" stroke-width="0.95"/>
<text x="597.9000000000001" y="184.3" font-family="Liberation Serif, serif" fill="#000" font-style="italic" font-size="13.5" stroke="#000" stroke-width="0.1" >q</text>
<text x="606.3000000000001" y="179.60000000000002" font-family="Liberation Serif, serif" fill="#000" font-size="10.4" stroke="#000" stroke-width="0.22" >2</text>
<path d="M622.70 176.50 L614.30 180.10 L622.70 183.70 M614.00 186.40 H622.90" fill="none" stroke="#000" stroke-width="0.95"/>
<text x="625.0" y="184.3" font-family="Liberation Serif, serif" fill="#000" font-size="13.5" stroke="#000" stroke-width="0.22" textLength="13.4" lengthAdjust="spacingAndGlyphs">12</text>
<text x="639.4" y="184.3" font-family="Liberation Serif, serif" fill="#000" font-size="13.5" stroke="#000" stroke-width="0.22" >]</text>
<text x="651.0" y="184.3" font-family="Liberation Serif, serif" fill="#000" font-size="13.5" stroke="#000" stroke-width="0.22" textLength="26.6" lengthAdjust="spacingAndGlyphs">GeV</text>
<text x="678.9" y="179.60000000000002" font-family="Liberation Serif, serif" fill="#000" font-size="10.8" stroke="#000" stroke-width="0.22" >2</text>
<rect x="472.2" y="235.7" width="11.4" height="11.4" fill="#E8FCE6" stroke="#A8E0A3" stroke-width="1"/>
<g transform="translate(0,51.4)" fill="none" stroke="#000" stroke-linecap="round" stroke-linejoin="round"><path d="M495.5 184.4 C496.2 182.2 498.6 180.6 502 180.5 L505 180.5" stroke-width="1.25"/><path d="M504 180.5 C508 180.5 510.4 181.7 510.3 184" stroke-width="1.3"/><path d="M510.3 184 C510.2 186.4 507 188.2 502.8 188.4" stroke-width="1.7"/><path d="M501.5 181 L498 194.5" stroke-width="2.1"/><path d="M502.9 188.3 C504.1 190.4 505.3 193.9 507.9 194.0" stroke-width="2.25"/><path d="M507.9 194.1 C510 194.2 511.5 193.2 512.4 192.1" stroke-width="1.1"/></g>
<text x="513.6" y="237.6" font-family="Liberation Serif, serif" fill="#000" font-style="italic" font-size="14" stroke="#000" stroke-width="0.1" textLength="8.6" lengthAdjust="spacingAndGlyphs">μ</text>
<path d="M522.60 247.40 L513.80 251.70 L522.60 256.00" fill="none" stroke="#000" stroke-width="1"/>
<text x="524.6" y="255.4" font-family="Liberation Serif, serif" fill="#000" font-style="italic" font-size="13.5" stroke="#000" stroke-width="0.1" >e</text>
<text x="531.6" y="255.4" font-family="Liberation Serif, serif" fill="#000" font-size="13.5" stroke="#000" stroke-width="0.22" >,</text>
<text x="534.8000000000001" y="255.4" font-family="Liberation Serif, serif" fill="#000" font-style="italic" font-size="14" stroke="#000" stroke-width="0.1" textLength="8.6" lengthAdjust="spacingAndGlyphs">μ</text>
<path d="M545.30 247.40 L554.10 251.70 L545.30 256.00" fill="none" stroke="#000" stroke-width="1"/>
<text x="557.0" y="255.4" font-family="Liberation Serif, serif" fill="#000" font-size="13.5" stroke="#000" stroke-width="0.22" >;</text>
<text x="561.4000000000001" y="255.4" font-family="Liberation Serif, serif" fill="#000" font-style="italic" font-size="12.8" stroke="#000" stroke-width="0.1" textLength="7.4" lengthAdjust="spacingAndGlyphs">ρ</text>
<text x="576.2" y="254.9" font-family="Liberation Serif, serif" fill="#000" font-size="13.5" stroke="#000" stroke-width="0.22" >[</text>
<text x="579.2" y="254.9" font-family="Liberation Serif, serif" fill="#000" font-style="italic" font-size="13.5" stroke="#000" stroke-width="0.1" >q</text>
<text x="587.6" y="250.20000000000002" font-family="Liberation Serif, serif" fill="#000" font-size="10.4" stroke="#000" stroke-width="0.22" >2</text>
<path d="M604.00 247.10 L595.60 250.70 L604.00 254.30 M595.30 257.00 H604.20" fill="none" stroke="#000" stroke-width="0.95"/>
<text x="606.3" y="254.9" font-family="Liberation Serif, serif" fill="#000" font-size="13.5" stroke="#000" stroke-width="0.22" textLength="13.4" lengthAdjust="spacingAndGlyphs">12</text>
<text x="620.6999999999999" y="254.9" font-family="Liberation Serif, serif" fill="#000" font-size="13.5" stroke="#000" stroke-width="0.22" >]</text>
<text x="632.3" y="254.9" font-family="Liberation Serif, serif" fill="#000" font-size="13.5" stroke="#000" stroke-width="0.22" textLength="26.6" lengthAdjust="spacingAndGlyphs">GeV</text>
<text x="660.1999999999999" y="250.20000000000002" font-family="Liberation Serif, serif" fill="#000" font-size="10.8" stroke="#000" stroke-width="0.22" >2</text>
<rect x="472.2" y="290.7" width="11.4" height="11.4" fill="#F2E5F4" stroke="#CBA8CD" stroke-width="1"/>
<g transform="translate(0,106.5)" fill="none" stroke="#000" stroke-linecap="round" stroke-linejoin="round"><path d="M495.5 184.4 C496.2 182.2 498.6 180.6 502 180.5 L505 180.5" stroke-width="1.25"/><path d="M504 180.5 C508 180.5 510.4 181.7 510.3 184" stroke-width="1.3"/><path d="M510.3 184 C510.2 186.4 507 188.2 502.8 188.4" stroke-width="1.7"/><path d="M501.5 181 L498 194.5" stroke-width="2.1"/><path d="M502.9 188.3 C504.1 190.4 505.3 193.9 507.9 194.0" stroke-width="2.25"/><path d="M507.9 194.1 C510 194.2 511.5 193.2 512.4 192.1" stroke-width="1.1"/></g>
<text x="513.6" y="292.7" font-family="Liberation Serif, serif" fill="#000" font-style="italic" font-size="14" stroke="#000" stroke-width="0.1" textLength="8.6" lengthAdjust="spacingAndGlyphs">μ</text>
<path d="M522.60 299.20 L513.80 303.50 L522.60 307.80" fill="none" stroke="#000" stroke-width="1"/>
<text x="524.6" y="306.9" font-family="Liberation Serif, serif" fill="#000" font-style="italic" font-size="13.5" stroke="#000" stroke-width="0.1" >e</text>
<text x="531.6" y="306.9" font-family="Liberation Serif, serif" fill="#000" font-size="13.5" stroke="#000" stroke-width="0.22" >,</text>
<text x="534.8000000000001" y="306.9" font-family="Liberation Serif, serif" fill="#000" font-style="italic" font-size="14" stroke="#000" stroke-width="0.1" textLength="8.6" lengthAdjust="spacingAndGlyphs">μ</text>
<path d="M545.30 299.20 L554.10 303.50 L545.30 307.80" fill="none" stroke="#000" stroke-width="1"/>
<text x="557.0" y="306.9" font-family="Liberation Serif, serif" fill="#000" font-size="13.5" stroke="#000" stroke-width="0.22" >;</text>
<text x="561.0" y="306.9" font-family="Liberation Serif, serif" fill="#000" font-style="italic" font-size="12.6" stroke="#000" stroke-width="0.1" textLength="8.4" lengthAdjust="spacingAndGlyphs">π</text>
</g>
</svg>
</body></html>
